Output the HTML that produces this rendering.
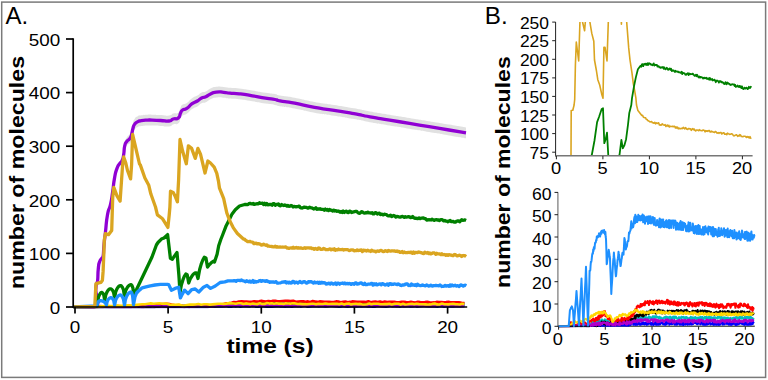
<!DOCTYPE html>
<html><head><meta charset="utf-8"><title>figure</title>
<style>
html,body{margin:0;padding:0;background:#fff;}
body{width:768px;height:380px;overflow:hidden;}
svg{display:block;}
text{font-family:"Liberation Sans",sans-serif;fill:#000;}
.tl{font-size:16.4px;}
.tb{font-size:16.6px;}
.al{font-size:20px;font-weight:bold;}
.pl{font-size:23.5px;}
</style></head><body>
<svg width="768" height="380" viewBox="0 0 768 380">
<defs>
<clipPath id="clipA"><rect x="72" y="30" width="396" height="278.5"/></clipPath>
<clipPath id="clipBT"><rect x="555.6" y="22.1" width="200" height="134"/></clipPath>
<clipPath id="clipBB"><rect x="558" y="180" width="200" height="147.5"/></clipPath>
</defs>
<rect x="0" y="0" width="768" height="380" fill="#fff"/>
<rect x="1.7" y="2.1" width="763.9" height="375.3" fill="none" stroke="#7a7a7a" stroke-width="1.5"/>
<g clip-path="url(#clipA)" fill="none" stroke-linejoin="round" stroke-linecap="butt">
<polyline stroke="#0000ff" stroke-width="2.6" points="75,307 205.4,306.8 207.8,307 210.1,306.3 212.5,306.3 214.8,306.7 217.2,306.4 219.6,306.4 221.9,306.4 224.2,306.2 226.5,306.1 228.8,306.7 231.1,306.8 233.4,306 235.7,306.4 238,306 240.4,306.8 242.7,306.3 244.9,306.3 247.1,306.1 249.4,306.5 251.6,305.8 253.9,305.9 256.1,306.7 258.3,306.7 260.6,306.2 262.8,305.9 265.1,306.4 267.3,306.6 269.5,306.4 271.8,306.7 274,306.5 276.3,306.3 278.5,306.3 280.7,306.5 283,306.5 285.2,306.6 287.5,306.3 289.7,306.5 291.9,306.7 294.2,306 296.4,306.2 298.7,306.1 300.9,306.6 303.1,305.8 305.4,305.9 307.6,306.7 309.9,306.4 312.1,306.1 314.3,306.1 316.6,305.9 318.8,306.4 321,306 323.3,306.1 325.5,306.5 327.8,306.2 330,305.9 332.2,306 334.5,306.3 336.7,306.2 339,306.7 341.2,306.5 343.4,306 345.7,306.4 347.9,306.6 350.2,306.2 352.4,306.1 354.6,306.1 356.9,306.4 359.1,306.3 361.4,306.3 363.6,306 365.8,306.3 368.1,306.4 370.3,306.3 372.6,306.7 374.8,306.7 377,306.1 379.3,305.8 381.5,306.2 383.7,306.4 386,306.6 388.2,306.3 390.5,305.8 392.7,306 394.9,306.3 397.2,305.9 399.4,306.6 401.7,306.3 403.9,305.9 406.1,306.2 408.4,306.3 410.6,306.5 412.9,306.3 415.1,305.9 417.3,306.8 419.6,306 421.8,306 424.1,305.9 426.3,306.1 428.5,306 430.8,306.3 433,306.2 435.3,306.4 437.5,306.7 439.7,305.9 442,306.2 444.2,306.6 446.5,306.3 448.7,306.3 450.9,306.4 453.2,306.5 455.4,306.3 457.6,306.2 459.9,306.2 462.1,306.3 464.4,306.3"/>
<polyline stroke="#00bfbf" stroke-width="2.6" points="75,307 130.9,306.7 133.9,306.8 136.9,306.3 139.3,306.2 141.7,306.3 144.2,306 146.6,305.9 149.1,306.4 151.5,306.3 153.9,305.5 156.4,306 158.8,305.7 161.2,305.9 163.6,305.1 166,305.6 168.3,305.5 170.6,305.3 172.9,305.8 175.2,305.8 177.5,306 179.7,306.4 181.9,305.9 184.2,305.7 186.4,306 188.6,305.8 190.9,305.9 193.1,306.5 195.3,305.8 197.6,306 199.8,306.1 202.1,306.2 204.4,306.5 206.7,305.6 208.9,305.9 211.2,305.7 213.5,305.5 215.8,305.6 218,305.3 220.3,305.7 222.9,305.7 225.5,305.2 228.1,305.4 230.7,304.9 233.4,305.2 235.8,304.8 238.3,305.5 240.8,305.4 243.3,305.3 245.8,304.5 248.3,304.9 250.7,305 253.2,304.8 255.7,305.1 258.2,304.9 260.7,305 263.2,305 265.6,304.8 268.1,304.8 270.6,304.9 272.9,304.5 275.3,304.7 277.6,304.5 279.9,304.5 282.3,304.4 284.6,304.7 286.9,305.2 289.2,304.6 291.6,304.5 293.9,304.5 296.2,304.9 298.6,304.7 300.9,305.2 303.2,304.6 305.5,304.9 307.9,305 310.2,305.2 312.5,305.4 314.9,304.6 317.2,304.5 319.5,305.4 321.8,304.7 324.2,305.1 326.5,305.3 328.8,305.2 331.2,304.7 333.5,304.6 335.8,305.4 338.1,304.9 340.5,305.4 342.8,304.8 345.1,305.2 347.5,304.6 349.8,304.5 352.1,305 354.4,305 356.7,304.5 358.9,305.2 361.2,305.4 363.4,304.9 365.7,305.5 367.9,305.3 370.2,305.1 372.4,304.9 374.6,305.3 376.9,305.5 379.1,304.7 381.4,305.2 383.6,304.6 385.9,304.6 388.1,305.1 390.3,305.1 392.6,305 394.8,304.9 397.1,304.9 399.3,305 401.6,304.9 403.8,304.6 406,305 408.3,305.1 410.5,304.8 412.8,305.3 415,305.2 417.3,304.6 419.5,305 421.7,305 424,305.5 426.2,305.1 428.5,304.9 430.7,305.5 433,304.9 435.2,304.9 437.4,305.4 439.7,304.9 441.9,305 444.2,304.8 446.4,305.2 448.7,304.8 450.9,304.8 453.2,305.5 455.4,305.4 457.6,304.8 459.9,304.6 462.1,305.3 464.4,305"/>
<polyline stroke="#000000" stroke-width="2.6" points="75,307 149.5,306.7 152,306.9 154.5,306.9 157,306.5 159.5,306.6 162,306.1 164.5,306.6 167.1,306.3 169.6,305.8 172.1,306 174.7,306.3 177.1,306 179.4,306.5 181.8,306.2 184.2,306.4 186.6,306.5 189,306.6 191.3,306.5 193.7,305.7 196.1,306.1 198.4,305.8 200.8,305.7 203.1,305.7 205.4,306.2 207.7,306 210.1,305.6 212.4,305.4 214.7,305.6 217.8,305.2 220.9,305.4 223.4,304.9 225.9,305.4 228.4,304.8 230.9,304.5 233.4,304.5 236.7,304.5 240.1,304.4 242.4,304.6 244.8,304.2 247.2,304.5 249.6,303.6 251.9,303.5 254.3,303.7 256.7,303.8 259.1,303.5 261.4,303.1 263.7,303.4 266,303.1 268.3,303.1 270.7,303.4 273,303.5 275.3,303.3 277.6,303.5 279.9,303.4 282.3,303.7 284.6,303.6 286.9,303.1 289.3,303.9 291.6,303.9 294,303.3 296.3,303.7 298.6,303.4 301,303.5 303.3,303.6 305.7,303 308,303.8 310.3,303.6 312.7,303.8 315,303.4 317.4,303.7 319.7,303.6 322,303.5 324.4,303.3 326.7,303.7 329,303.5 331.3,303.1 333.6,303.9 335.9,304 338.3,303.8 340.6,303.3 342.9,303.5 345.2,303.8 347.5,303.7 349.9,303.9 352.2,303.6 354.5,304 356.8,303.4 359.1,303.2 361.4,303.2 363.8,303.6 366.1,303.4 368.4,303.2 370.8,304.2 373.1,303.9 375.4,303.3 377.7,303.5 380.1,303.9 382.4,303.4 384.7,303.7 387.1,303.8 389.4,303.5 391.7,304 394,304.1 396.4,303.8 398.7,304.1 401,303.9 403.4,303.3 405.7,303.9 408,304.2 410.3,303.7 412.6,304.2 414.8,304 417.1,303.5 419.3,303.9 421.6,303.9 423.8,304.1 426.1,303.3 428.3,303.8 430.6,304 432.9,304.2 435.1,304.2 437.4,304.1 439.6,303.6 441.9,304.1 444.1,304.2 446.4,303.7 448.6,304 450.9,303.3 453.1,304.1 455.4,303.7 457.6,303.5 459.9,303.8 462.1,303.3 464.4,303.7"/>
<polyline stroke="#ff0000" stroke-width="2.6" points="75,307 97.4,307 99.2,306 102.9,306.2 106.7,306.7 112.3,306.6 117.8,306 121.6,306.7 127.2,306 130.9,306.5 133.9,305.9 136.9,305.9 139.5,305.5 142.1,305.7 144.7,305.8 147.3,305.4 149.9,305.7 152.6,304.9 155.2,304.9 157.9,304.7 160.7,304.1 163.5,304.1 166.3,303.7 169.5,304 172.6,304.9 175.7,305.2 178.8,305.1 183.1,306.1 186.2,305.7 189.4,305.8 192,305.5 194.6,305.7 197.2,305.5 199.8,305.4 202.4,305.2 205,305.7 207.6,305.3 210.3,305.4 212.9,304.9 215.6,305.2 218.2,304.5 220.9,304.6 223.7,303.9 226.5,303.3 229.3,303.1 231.6,302.8 233.9,302.1 236.5,302.3 239,301.5 241.6,301.4 244.2,301.6 246.6,301.6 249.1,301.9 251.6,301.7 254.1,301.3 256.6,301.6 259.1,301.3 261.4,300.9 263.7,301.2 266,301.6 268.3,301.1 270.7,301.4 273,300.8 275.3,300.8 277.6,301.2 279.9,301.2 282.6,301 285.2,300.9 287.9,300.8 290.5,301.1 293.2,300.7 295.8,301.7 298.4,301.5 301,301.4 303.3,301.3 305.7,301.7 308,301.4 310.3,301.9 312.7,301.1 315,301.5 317.4,301.9 319.7,301.4 322,301.6 324.4,301.8 326.7,301.9 329.1,301.7 331.4,302 333.7,302 336.1,301.4 338.4,301.6 340.7,302.2 343.1,301.8 345.4,301.5 347.7,302.2 350,301.9 352.3,301.4 354.6,301.6 356.9,301.9 359.2,301.8 361.5,301.8 363.8,301.7 366.1,302.1 368.4,301.3 370.8,302.2 373.1,301.9 375.4,301.6 377.7,302 380.1,301.5 382.4,302.2 384.7,301.6 387.1,302.1 389.5,301.7 391.9,301.9 394.3,301.8 396.7,302.2 399.2,302.2 401.5,301.8 403.8,301.9 406.2,302.1 408.5,302.2 410.9,301.9 413.2,302.2 415.5,302.5 417.9,301.8 420.2,302.1 422.6,302.3 424.9,302.1 427.2,301.8 429.6,302.3 431.9,302.5 434.2,302.4 436.6,301.9 438.9,302.1 441.3,302 443.7,302.3 446.2,302.1 448.6,301.7 451.1,302.4 453.5,302.4 456,302.3 458.8,302.2 461.6,302.7 464.4,303"/>
<polyline stroke="#9a00d0" stroke-width="2.6" points="75,307 102.9,307 104.8,306.6 108.5,307 116,306.6 119.7,307 127.2,306.6 130.9,307 133.9,306.3 136.9,306.6 139.1,306.1 141.3,307 143.6,306.9 145.8,306.2 148.1,306.2 150.3,306.3 152.6,306.6 154.8,306.3 157.1,306.3 159.3,306.3 161.6,306.7 163.8,306.4 166.1,306.4 168.3,306.3 170.6,306.1 172.9,305.9 175.3,305.9 177.6,306.3 179.9,306.5 182.2,306.6 184.5,306.9 186.8,306.5 189.1,306.9 191.4,306.4 193.8,306.6 196.1,306.5 198.4,306 200.8,306.3 203.1,306.2 205.4,306.5 207.7,306.7 210.1,306.4 212.4,306.5 214.7,306.1 217.1,306.1 219.4,305.5 221.7,305.8 224,306.2 226.4,305.5 228.7,305.5 231,305.5 233.4,305.7 235.8,305.3 238.3,305.4 240.8,305.4 243.3,305.8 245.8,305.2 248.3,305.6 250.5,305.2 252.8,305.9 255,305.4 257.3,305.4 259.6,305.7 261.8,305.6 264.1,305.7 266.4,305.2 268.6,305.7 270.9,305.3 273.1,305.8 275.4,305.3 277.7,305.3 279.9,305.7 282.2,305.6 284.5,305.3 286.7,305.5 289,305.7 291.2,306 293.5,305.9 295.8,305.5 298,306.1 300.3,305.3 302.6,306 304.8,305.4 307.1,305.9 309.3,305.3 311.6,305.8 313.8,305.6 316.1,305.8 318.3,305.7 320.6,305.6 322.8,305.7 325.1,305.9 327.3,306 329.6,305.7 331.8,305.3 334.1,305.6 336.3,306.2 338.6,305.4 340.8,305.5 343.1,305.4 345.3,306.1 347.5,305.5 349.8,306.2 352,305.6 354.3,306 356.5,306 358.8,305.4 361,306.1 363.3,305.7 365.5,305.4 367.8,306 370,306 372.3,305.4 374.5,305.8 376.8,305.5 379,306.2 381.2,305.9 383.5,306.1 385.7,305.6 388,306.1 390.2,305.3 392.5,306.2 394.7,305.5 397,306.2 399.2,306 401.5,305.4 403.7,306.1 406,306 408.2,305.5 410.4,305.8 412.7,306.2 414.9,305.3 417.2,306.1 419.4,306.2 421.7,305.9 423.9,305.6 426.2,305.5 428.4,306.1 430.7,305.9 432.9,306.2 435.2,305.8 437.4,305.5 439.7,305.5 441.9,305.3 444.1,305.5 446.4,305.4 448.6,305.5 450.9,305.7 453.1,306 455.4,305.6 457.6,305.9 459.9,306.1 462.1,305.8 464.4,305.7"/>
<polyline stroke="#ffd700" stroke-width="2.6" points="75,307 97.4,307 101.1,306.4 104.8,306 107.6,305.8 110.4,306.1 114.1,305.9 117.8,305.6 121.6,305.9 125.3,305.5 129,305.2 132.8,305.5 136.9,304.9 139.6,304.5 142.4,304.2 145.2,304.2 148,303.7 150.8,303.4 153.6,303.7 156.4,303.5 159.2,303.3 162,303.8 166.3,303.5 169.5,304.6 172.6,304.7 175.7,304.7 178.8,304.5 183.1,306 187.2,305.1 189.9,304.5 192.7,304.6 195.5,304.5 198.4,304 201.2,304.7 204.1,304.2 206.9,304.3 209.7,304.6 212.5,304.4 215.3,304.1 218.1,303.8 220.9,303.7 223.7,304 226.5,303.6 229.3,303.1 233.4,303.5 235.8,303.7 238.3,303.2 240.8,303.3 243.3,304 245.8,303.4 248.3,303.7 250.6,304.1 252.9,303.6 255.3,304 257.6,304.1 260,303.3 262.3,303.9 264.6,303.9 267,303.1 269.3,303.6 271.7,303.2 274,303.8 276.4,303.2 278.8,303.6 281.1,303.5 283.5,304 285.8,303.3 288.2,303.5 290.5,303.7 292.9,303.3 295.2,303.4 297.6,304 299.9,303.9 302.2,304.1 304.6,304.1 306.9,304.2 309.3,304 311.6,303.8 313.9,303.7 316.2,304.3 318.4,303.7 320.7,304 323,304 325.3,303.5 327.5,303.9 329.8,304 332.1,303.8 334.5,303.9 336.9,303.7 339.2,304.3 341.6,303.5 344,304.4 346.4,303.7 348.8,303.6 351.1,304.4 353.5,304 355.8,303.7 358,304.1 360.2,303.9 362.5,304.5 364.7,304.5 366.9,304.3 369.2,303.6 371.4,304.3 373.6,303.8 375.9,303.7 378.1,303.7 380.3,304.2 382.6,304.2 384.8,304.1 387.1,304.1 389.3,303.8 391.6,304.5 393.9,303.9 396.1,303.8 398.4,303.8 400.7,304.6 403,303.7 405.2,304.5 407.5,304.3 409.8,304 412.1,303.7 414.3,304.3 416.6,303.7 418.9,304.1 421.2,304.3 423.4,304.3 425.7,304.4 428,304.5 430.3,304.4 432.5,303.9 434.8,303.6 437.1,304.4 439.4,304.5 441.6,303.6 443.9,304.1 446.2,304.2 448.4,304.4 450.7,304 453,303.8 455.3,304.1 457.5,304.2 459.8,304.5 462.1,303.7 464.4,304.1"/>
<path fill="#dadada" fill-opacity="0.8" stroke="none" d="M96.6,282.5 C96.9,281.7 97,284.9 97.6,280 C98.2,275.1 97.6,274.1 98.3,267.7 C99,261.3 98.5,264.2 99.6,260.8 C100.7,257.4 100.5,259.2 101.7,257.4 C102.9,255.6 102.3,259.9 103.1,255.4 C103.9,250.9 103.2,251.9 104,244 C104.8,236.1 104.2,241.7 105.4,231.6 C106.6,221.5 105.8,223.2 107.5,213.7 C109.2,204.2 108.9,210.9 110.6,203.2 C112.3,195.5 111.4,199.1 112.7,190.5 C114,181.9 113,185.4 114.4,177.4 C115.8,169.4 115.1,172 117,166.4 C118.9,160.8 118.4,163.6 120.1,160.6 C121.8,157.6 121,160.6 122.2,157.5 C123.4,154.3 122.9,156.2 123.7,151.2 C124.5,146.2 123.7,147 124.7,142.5 C125.7,137.9 125.2,140.2 126.8,137.5 C128.4,134.9 128.1,136.4 129.5,134.5 C130.9,132.6 130.2,133.6 131,131.7 C131.8,129.8 131.1,131.6 131.8,128.7 C132.5,125.8 132.1,126.2 133,123 C133.9,119.8 133.1,121.2 134.6,119 C136.1,116.8 135.2,117.7 137.4,116.5 C139.6,115.3 137.9,115.9 141.3,115.3 C144.7,114.7 144,114.9 147.6,114.7 C151.2,114.5 147.7,114.6 152,114.7 C156.3,114.8 154.8,114.8 160.5,115.1 C166.2,115.4 164.8,116.1 169,115.6 C173.2,115.1 170.1,114.6 173.2,113.6 C176.3,112.6 176,114.4 178.4,112.5 C180.8,110.6 179.1,110.4 180.5,107.8 C181.9,105.2 180.5,106.2 182.6,104.6 C184.7,103 183.6,105.1 186.8,103 C190,100.9 188.6,100.8 192.1,98.3 C195.6,95.8 194.2,97.5 197.4,95.6 C200.6,93.7 198.8,93.9 201.6,92.5 C204.4,91.1 202.7,92.8 205.8,91.4 C208.9,90 207.5,89.9 211,88.3 C214.5,86.7 212.1,87.2 216.3,86.7 C220.5,86.2 219.1,86.5 223.7,86.9 C228.3,87.3 224.8,87.3 230,87.8 C235.2,88.3 231.7,87.5 239.2,88.4 C246.7,89.3 243.6,88.9 252.4,90.4 C261.2,91.9 258,91.6 265.5,92.8 C273,94 270.2,93.2 275,94.1 C279.8,95 273.4,94.3 280,95.5 C286.6,96.7 283.2,95.6 294.7,97.8 C306.2,100 301.3,99.6 314.5,102 C327.7,104.4 321,102.9 334.2,105 C347.4,107.1 342.1,106.2 354,108.3 C365.9,110.4 358.1,109.3 370,111.4 C381.9,113.5 376.5,112.5 389.7,114.7 C402.9,116.9 396.3,115.8 409.5,118 C422.7,120.2 416,119.1 429.2,121.3 C442.4,123.5 436.7,122.5 449,124.6 C461.3,126.7 460.3,126.5 466,127.5 L466,138.3 C460.3,137.3 461.3,137.5 449,135.4 C436.7,133.3 442.4,134.3 429.2,132.1 C416,129.9 422.7,131 409.5,128.8 C396.3,126.6 402.9,127.7 389.7,125.5 C376.5,123.3 381.9,124.3 370,122.2 C358.1,120.1 365.9,121.2 354,119.1 C342.1,117 347.4,117.9 334.2,115.8 C321,113.7 327.7,115.2 314.5,112.8 C301.3,110.4 306.2,110.8 294.7,108.6 C283.2,106.4 286.6,107.5 280,106.3 C273.4,105.1 279.8,105.8 275,104.9 C270.2,104 273,104.8 265.5,103.6 C258,102.4 261.2,102.7 252.4,101.2 C243.6,99.7 246.7,100.1 239.2,99.2 C231.7,98.3 235.2,99.1 230,98.6 C224.8,98.1 228.3,98.1 223.7,97.7 C219.1,97.3 220.5,97 216.3,97.5 C212.1,98 214.5,97.5 211,99.1 C207.5,100.7 208.9,100.8 205.8,102.2 C202.7,103.6 204.4,101.9 201.6,103.3 C198.8,104.7 200.6,104.5 197.4,106.4 C194.2,108.3 195.6,106.6 192.1,109.1 C188.6,111.6 190,111.7 186.8,113.8 C183.6,115.9 184.7,113.8 182.6,115.4 C180.5,117 181.9,116 180.5,118.6 C179.1,121.2 180.8,121.4 178.4,123.3 C176,125.2 176.3,123.4 173.2,124.4 C170.1,125.4 173.2,125.9 169,126.4 C164.8,126.9 166.2,126.2 160.5,125.9 C154.8,125.6 156.3,125.6 152,125.5 C147.7,125.4 151.2,125.3 147.6,125.5 C144,125.7 144.7,125.5 141.3,126.1 C137.9,126.7 139.6,126.1 137.4,127.3 C135.2,128.5 136.1,127.8 134.6,129.8 C133.1,131.8 133.9,130.4 133,133.4 C132.1,136.4 132.5,136 131.8,138.7 C131.1,141.3 131.8,139.7 131,141.3 C130.2,142.9 130.9,142.1 129.5,143.5 C128.1,144.9 128.4,143.4 126.8,145.5 C125.2,147.5 125.7,145.4 124.7,149.5 C123.7,153.7 124.5,153.2 123.7,157.8 C122.9,162.5 123.4,160.9 122.2,163.5 C121,166.2 121.8,163.5 120.1,165.8 C118.4,168.1 118.9,165.5 117,170.4 C115.1,175.3 115.8,172.9 114.4,180.4 C113,187.8 114,184.5 112.7,192.7 C111.4,201 112.3,197.5 110.6,205.2 C108.9,212.9 109.2,206.2 107.5,215.7 C105.8,225.2 106.6,223.5 105.4,233.6 C104.2,243.7 104.8,238.1 104,246 C103.2,253.9 103.9,252.9 103.1,257.4 C102.3,261.9 102.9,257.6 101.7,259.4 C100.5,261.2 100.7,259.4 99.6,262.8 C98.5,266.2 99,263.3 98.3,269.7 C97.6,276.1 98.2,277.1 97.6,282 C97,286.9 96.9,283.7 96.6,284.5 Z"/>
<path stroke="#9000d4" stroke-width="3.3" d="M73.2,307 C80.5,306.8 87.5,312.2 95,306.5 C102.5,300.8 95.3,297.7 95.8,290 C96.3,282.3 96,286.5 96.6,283.5 C97.2,280.5 97,285.9 97.6,281 C98.2,276.1 97.6,275.1 98.3,268.7 C99,262.3 98.5,265.2 99.6,261.8 C100.7,258.4 100.5,260.2 101.7,258.4 C102.9,256.6 102.3,260.9 103.1,256.4 C103.9,251.9 103.2,252.9 104,245 C104.8,237.1 104.2,242.7 105.4,232.6 C106.6,222.5 105.8,224.2 107.5,214.7 C109.2,205.2 108.9,211.9 110.6,204.2 C112.3,196.5 111.4,200 112.7,191.6 C114,183.2 113,186.6 114.4,178.9 C115.8,171.2 115.1,173.6 117,168.4 C118.9,163.2 118.4,165.8 120.1,163.2 C121.8,160.6 121,163.4 122.2,160.5 C123.4,157.6 122.9,159.3 123.7,154.5 C124.5,149.7 123.7,150.3 124.7,146 C125.7,141.7 125.2,143.8 126.8,141.5 C128.4,139.2 128.1,140.7 129.5,139 C130.9,137.3 130.2,138.3 131,136.5 C131.8,134.7 131.1,136.5 131.8,133.7 C132.5,130.9 132.1,131.3 133,128.2 C133.9,125.1 133.1,126.5 134.6,124.4 C136.1,122.3 135.2,123.1 137.4,121.9 C139.6,120.7 137.9,121.3 141.3,120.7 C144.7,120.1 144,120.3 147.6,120.1 C151.2,119.9 147.7,120 152,120.1 C156.3,120.2 154.8,120.2 160.5,120.5 C166.2,120.8 164.8,121.5 169,121 C173.2,120.5 170.1,120 173.2,119 C176.3,118 176,119.8 178.4,117.9 C180.8,116 179.1,115.8 180.5,113.2 C181.9,110.6 180.5,111.6 182.6,110 C184.7,108.4 183.6,110.5 186.8,108.4 C190,106.3 188.6,106.2 192.1,103.7 C195.6,101.2 194.2,102.9 197.4,101 C200.6,99.1 198.8,99.3 201.6,97.9 C204.4,96.5 202.7,98.2 205.8,96.8 C208.9,95.4 207.5,95.3 211,93.7 C214.5,92.1 212.1,92.6 216.3,92.1 C220.5,91.6 219.1,91.9 223.7,92.3 C228.3,92.7 224.8,92.7 230,93.2 C235.2,93.7 231.7,92.9 239.2,93.8 C246.7,94.7 243.6,94.3 252.4,95.8 C261.2,97.3 258,97 265.5,98.2 C273,99.4 270.2,98.6 275,99.5 C279.8,100.4 273.4,99.7 280,100.9 C286.6,102.1 283.2,101 294.7,103.2 C306.2,105.4 301.3,105 314.5,107.4 C327.7,109.8 321,108.3 334.2,110.4 C347.4,112.5 342.1,111.6 354,113.7 C365.9,115.8 358.1,114.7 370,116.8 C381.9,118.9 376.5,117.9 389.7,120.1 C402.9,122.3 396.3,121.2 409.5,123.4 C422.7,125.6 416,124.5 429.2,126.7 C442.4,128.9 436.7,127.9 449,130 C461.3,132.1 460.3,131.9 466,132.9"/>
<polyline stroke="#008000" stroke-width="3.3" points="73.2,307 96,306.5 97,305.5 97.8,299.8 98.5,297.1 99.3,295.1 100.1,293.7 100.8,292.8 101.6,292.4 102.4,292.7 103.2,293.7 103.9,295.5 104.7,300.6 105.7,295.1 106.7,292.6 107.7,290.8 108.7,289.6 109.7,288.9 110.6,288.8 111.6,289.2 112.6,290.4 113.6,292.5 114.6,297.8 115.6,292.1 116.6,289.6 117.6,287.8 118.6,286.6 119.5,285.8 120.5,285.6 121.5,286.1 122.5,287.5 123.5,290 124.5,296.3 125.4,291.4 126.4,289.1 127.3,287.5 128.2,286.2 129.2,285.4 130.1,284.8 131,284.6 131.9,285.4 132.9,288 133.8,295.2 152,257 156.4,245 158,242.5 161.4,239.1 164,238 167.6,234.6 170.4,258.3 172.3,259.3 174.2,256.4 177,252.6 178.9,275.3 180,292.4 180,292.4 181.4,284.8 182.9,279.9 184.3,276.4 185.8,274 187.2,274.7 188.7,283 190.2,278.9 191.8,276.3 193.3,274.3 194.9,273 196.4,273 198,278.5 199.6,269.7 201.2,264.1 202.8,260 204.3,257.2 205.9,257.9 207.5,267 208.7,265.4 209.8,264.2 211,263.1 212.2,262.1 213.3,261.3 214.5,262 217.1,254.2 218.7,245.8 220.8,239.5 222.6,235 225.8,226.6 229,220.3 232.1,213.9 235.3,209.7 239.5,206 244.7,204.5 245.8,204.4 246.8,204.6 247.9,204.6 248.9,203.6 250,203.3 251,203.8 252.1,204 253.2,203.5 254.2,204.4 255.2,204.1 256.3,203.9 257.4,203.7 258.4,203.8 259.4,202.8 260.5,203.4 261.6,203.4 262.6,203.1 263.6,204.6 264.7,203.2 265.8,204.7 266.8,203.5 267.8,204.8 268.9,204.6 270,204.3 271,204.4 272.1,205.2 273.1,203.7 274.2,203.7 275.3,205.3 276.3,204.5 277.4,204.5 278.4,203.9 279.5,205.7 280.5,205.8 281.6,204.5 282.6,205.2 283.7,205.5 284.8,205 285.8,205.4 286.9,206.1 287.9,205.4 288.9,206.4 290,206.2 291,205.5 292,205.8 293.1,207 294.1,206.3 295.1,206.5 296.1,206.9 297.1,206.7 298.2,206.6 299.2,206.1 300.2,207.4 301.2,207.9 302.2,208 303.3,207.5 304.3,207.1 305.3,207.4 306.4,207.3 307.4,208 308.5,208.1 309.5,207.2 310.6,207.6 311.6,207.9 312.7,208.3 313.7,209 314.8,208.5 315.8,207.8 316.9,209.4 317.9,208.8 319,209.1 320,208.7 321.1,209.3 322.2,209.3 323.2,209.4 324.3,210.2 325.3,209.1 326.4,210.1 327.4,209.5 328.5,210.6 329.5,209.5 330.6,210.1 331.6,210.4 332.7,211 333.7,210.1 334.8,211 335.8,210.6 336.9,211.3 338,211 339,211.4 340.1,212.3 341.1,211.5 342.2,212.4 343.2,211 344.3,212.4 345.3,211.5 346.4,211.2 347.4,212.3 348.5,212.6 349.5,211.1 350.6,211.6 351.6,212.5 352.7,212.1 353.7,211.9 354.7,211.7 355.7,211.3 356.7,211.4 357.7,212.5 358.7,213.2 359.8,213.3 360.8,212.4 361.8,211.6 362.8,212.2 363.8,213 364.8,213.2 365.8,212.6 366.9,212.9 367.9,212.2 368.9,212.8 370,212.8 371.1,213.2 372.1,212.6 373.1,213.9 374.2,213.8 375.2,212.6 376.3,212.9 377.3,214 378.4,213.4 379.4,213.2 380.4,214.6 381.4,214.1 382.4,214.6 383.4,214.9 384.5,214.2 385.5,214.5 386.5,214.7 387.5,215.7 388.5,215.9 389.5,215.8 390.6,215.2 391.6,216.6 392.7,215.8 393.7,215.5 394.8,216 395.8,217 396.9,216.3 397.9,216.5 399,217 400,217.2 401.1,216.9 402.1,216.3 403.2,216.7 404.2,217.3 405.3,216.6 406.4,217.2 407.4,217 408.5,216.6 409.5,216.8 410.6,217.6 411.6,217.4 412.7,216.5 413.7,217.8 414.8,218.3 415.8,218.2 416.9,218.5 417.9,218.6 419,218 420,218.6 421.1,218.2 422.2,218.2 423.4,217.9 424.5,218.6 425.6,218.7 426.7,220.1 427.9,219.8 429,219.7 430.1,219.8 431.1,220 432.2,219.2 433.2,220 434.3,220.3 435.3,219.8 436.4,219.6 437.4,220 438.5,219.9 439.5,220.6 440.6,219.6 441.6,219.6 442.7,220.1 443.7,220.8 444.8,220.5 445.9,221.1 446.9,221.1 448,221.8 449,221 450.1,220.5 451.1,221.5 452.2,221.6 453.2,221.3 454.3,222.1 455.4,222.2 456.4,221.4 457.5,221 458.5,220.9 459.6,221.8 460.6,220.8 461.7,219.8 462.8,220.4 463.9,220.2 465,219.9 466.1,220.4"/>
<polyline stroke="#1e90ff" stroke-width="3.3" points="73.2,307 96.5,306 97,305 97.9,302.2 98.9,301.2 99.8,300.7 100.8,300.6 101.7,300.8 102.6,301.1 103.6,301.5 104.5,302.2 105.5,303.1 106.4,305.2 107.2,301.5 108,299.8 108.9,298.7 109.7,298 110.5,297.7 111.3,297.6 112.1,298.1 113,299.2 113.8,300.9 114.6,305.2 115.6,300.2 116.6,298.1 117.6,296.6 118.6,295.6 119.5,295.1 120.5,295 121.5,295.6 122.5,297 123.5,299.4 124.5,305.2 125.4,299.6 126.3,297.1 127.2,295.2 128.1,293.9 129,292.9 129.9,292.3 130.8,292 131.7,292.8 132.6,295.8 133.5,304.6 135,297 136.6,293 138.5,291 140.3,289.5 142.2,287.8 146,286.8 150.3,285.8 155,285 160.4,284.4 167.5,284.4 168.6,284.6 171.4,290.2 175.1,288.4 178.7,287.2 180.4,297.9 182.2,294.3 184.6,290.2 188.1,293.7 191.7,289.6 195.2,289 198.8,292 203.5,287.2 207,285.4 210.6,288.4 215.3,286 220.1,282.5 224.8,281.9 228,280.9 232.9,280.8 234,280.6 235,280.7 236.1,281.3 237.1,280.3 238.2,280.3 239.2,280.4 240.3,280.7 241.3,280 242.4,280.7 243.4,280.8 244.5,281.2 245.5,281.7 246.6,280.7 247.6,281.2 248.7,281.8 249.8,281 250.8,282.2 251.8,281.9 252.9,280.6 253.9,282.3 255,281.3 256.1,282.1 257.1,281.6 258.2,281.5 259.2,280.7 260.3,280.5 261.4,281.4 262.4,280.6 263.5,280.8 264.5,280.9 265.6,281.4 266.6,280.6 267.7,281.5 268.7,281.5 269.8,282.3 270.8,281.8 271.9,282.1 272.9,281.9 274,282.3 275,282 276.1,281.7 277.1,283.1 278.2,283.2 279.2,283 280.3,282.8 281.3,282.5 282.3,282.1 283.4,282 284.4,282.1 285.5,281.6 286.5,282.9 287.5,282.2 288.6,283 289.6,282.1 290.7,283.1 291.7,282.9 292.7,281.4 293.8,281.7 294.8,283 295.9,282.2 296.9,282.2 297.9,283.1 299,282.1 300,281.5 301.1,282.5 302.1,282.8 303.1,281.9 304.2,281.6 305.2,282.1 306.3,283.2 307.3,282.9 308.3,281.7 309.4,282 310.4,281.7 311.5,281.7 312.5,282.5 313.5,283.1 314.6,282 315.6,282.8 316.7,282.6 317.7,282.2 318.7,283.3 319.8,282.3 320.8,283.2 321.9,282.3 322.9,283 323.9,282.6 325,282.8 326,284.1 327.1,283.9 328.1,283.4 329.1,283.1 330.2,284.1 331.2,283 332.3,283.3 333.3,284.2 334.4,283.8 335.4,282.9 336.5,284.5 337.5,283.1 338.6,283.2 339.6,284.2 340.7,283.4 341.7,283.4 342.8,283 343.8,283.8 344.8,283 345.9,283.9 346.9,283.3 348,283.9 349,283.4 350,283.6 351.1,284.4 352.1,283.6 353.2,283.7 354.2,284.2 355.2,282.9 356.3,282.9 357.3,284.2 358.4,284 359.4,283.4 360.5,283 361.5,283 362.6,284.1 363.6,284.5 364.7,283.3 365.8,284.7 366.8,284.6 367.9,284.2 368.9,284 370,284.2 371,283.5 372,283.4 373,285.1 374.1,283.8 375.1,284.6 376.1,283.8 377.1,284.9 378.1,284.5 379.1,284 380.1,283.8 381.2,284.8 382.2,283.6 383.2,283.9 384.2,284.5 385.2,285 386.2,284.6 387.2,284 388.3,285.2 389.3,283.9 390.3,283.6 391.3,284.5 392.3,284.1 393.3,284.4 394.3,283.8 395.3,284 396.3,284.3 397.3,284.7 398.3,283.9 399.4,284.4 400.4,285.3 401.4,285.5 402.4,285 403.4,285 404.4,284.9 405.4,284.1 406.4,283.9 407.4,283.9 408.4,285.5 409.4,285.2 410.4,285.6 411.4,284 412.4,285.1 413.4,284.8 414.4,285.3 415.5,284.6 416.5,285.8 417.5,284.2 418.5,285 419.5,285.4 420.5,285.7 421.5,285.4 422.5,285 423.5,285.4 424.6,285.6 425.6,285.9 426.6,284.9 427.7,285.5 428.7,286 429.7,285.9 430.8,285.2 431.8,285.9 432.8,286.1 433.9,285.6 434.9,285.7 435.9,285.3 437,285.7 438,285.6 439,285.8 440,284.9 441,285.9 442,286.5 443.1,286.3 444.1,286.1 445.1,285.4 446.1,286.1 447.1,285.8 448.1,285.6 449.1,286.3 450.1,284.9 451.1,286.1 452.1,284.9 453.2,285.9 454.2,285.7 455.2,285.2 456.2,286.1 457.2,285.7 458.2,285.9 459.2,286.5 460.2,285.3 461.2,284.9 462.3,285.4 463.3,286.1 464.3,285.3 465.3,285.2 466.3,285.8"/>
<polyline stroke="#daa520" stroke-width="3.3" points="73.2,307 94.8,306.4 95.9,283.8 97.6,283.1 101,282.4 102.4,280.3 103.1,271.4 103.8,255 104.3,240 105.4,233.6 108.5,234.7 111.7,230.5 112.7,197.9 113.8,187.4 117,195.8 120.1,201.1 122.6,165 123.7,157 125.8,163 127.5,170.5 130.6,178.9 131.6,165 132.6,134.5 135.3,146 139.5,164 140.3,164.9 144.9,178 148.8,185.3 150.8,193.8 155.5,207 157.4,214.9 162.6,218.8 167.9,227.4 169.2,215 169.9,207 170.5,191.2 173.2,192.4 175.3,196.6 177.4,201.8 178.6,180 180,139.5 182.6,151 186.3,163.7 188.4,145.8 191.6,148.4 195.3,158.4 197.9,148.4 200.5,154.2 205,173 207.9,161 210.5,163 214.2,167.1 216.8,173.4 218.4,180.8 219.5,188.2 221.6,193.4 223.7,198.7 224.7,203.4 226.8,212.9 230,221.3 233.2,227.6 237.4,233.5 243.4,239 244.5,239.1 245.5,240.3 246.6,240.9 247.6,241.6 248.7,241.6 249.8,241.4 250.8,241.8 251.8,242 252.9,242.4 253.9,243.6 255,243.5 256.1,243.1 257.2,243.9 258.2,243.6 259.3,243.9 260.4,244.3 261.5,245.1 262.6,244.9 263.6,244.2 264.7,244.8 265.8,245.3 266.9,244.9 267.9,246.1 269,246.2 270,246.3 271.1,246.5 272.1,246.5 273.2,246.9 274.2,246.8 275.3,246.1 276.3,247.1 277.4,246.7 278.4,247.2 279.5,247 280.5,247 281.6,247.2 282.7,247 283.7,247.2 284.8,247.1 285.8,246.8 286.9,248 287.9,248 289,248.4 290,248 291.1,247.8 292.1,248.2 293.2,247.3 294.2,248.2 295.3,247.9 296.3,247.5 297.4,248.1 298.5,247.7 299.5,248.2 300.6,247.8 301.6,248.1 302.7,248.4 303.7,248.1 304.8,247.7 305.8,248.3 306.9,247.9 307.9,247.9 309,247.9 310,248.2 311.1,247.8 312.1,248.7 313.2,248.5 314.3,249.3 315.3,248.4 316.4,249 317.4,249.4 318.5,248 319.5,248.2 320.6,249.3 321.6,249.4 322.7,249.1 323.7,248.4 324.8,248.9 325.8,249.6 326.9,249.7 327.9,249.6 329,249.2 330.1,248.8 331.1,249.8 332.2,249.1 333.2,249.7 334.3,248.8 335.3,250.2 336.4,249.6 337.4,249.8 338.5,249 339.5,249.7 340.6,249.7 341.6,249.7 342.7,249.4 343.7,250 344.8,249.7 345.8,249.6 346.9,249.7 347.9,249.6 349,250.6 350,250.4 351,249.8 352.1,250 353.1,249.8 354.1,250.8 355.2,250.6 356.2,250.7 357.2,249.9 358.2,250.5 359.3,250.4 360.3,250.1 361.3,249.9 362.4,251.6 363.4,250.2 364.4,250.5 365.5,250.5 366.5,251 367.5,250.2 368.5,250.9 369.6,250.8 370.6,251.5 371.6,250.2 372.7,250.8 373.7,251.1 374.8,251.1 375.8,251.8 376.9,251.1 377.9,251 379,251.3 380,250.7 381.1,250.3 382.1,251 383.2,251.6 384.2,251.3 385.3,250.6 386.3,251.2 387.4,251.5 388.4,250.5 389.5,250.9 390.6,251.2 391.6,250.9 392.7,250.8 393.7,251 394.8,251 395.8,251.3 396.9,251 397.9,251.6 399,251.3 400,252.4 401.1,252.3 402.1,251.5 403.2,252.8 404.2,252 405.3,252.6 406.3,252.6 407.4,252.7 408.4,252.4 409.4,252.3 410.4,252.6 411.4,252.1 412.5,253.3 413.5,252.1 414.5,253.3 415.6,252.3 416.6,252.5 417.6,252.6 418.6,252 419.7,252.2 420.7,252.6 421.7,252.7 422.7,253.5 423.8,253.7 424.8,252.2 425.8,252.9 426.8,253 427.8,252.5 428.8,253.6 429.8,253 430.8,253.9 431.8,253.5 432.8,252.9 433.8,252.8 434.8,253.3 435.8,254.3 436.8,253.3 437.8,253.9 438.8,253.8 439.8,253.8 440.8,254.6 441.8,253.8 442.8,254.7 443.8,254.7 444.8,254.5 445.9,255.3 446.9,254.7 448,255.4 449,254.7 450.1,255 451.1,255.1 452.2,255.6 453.2,255.7 454.3,254.5 455.3,254.7 456.4,255.4 457.4,255.9 458.5,255.5 459.5,255.2 460.6,255.6 461.7,256.5 462.8,255.7 463.9,255.5 465,255.7 466.1,256.6"/>
</g>
<g clip-path="url(#clipBT)" fill="none" stroke-linejoin="round">
<polyline stroke="#daa520" stroke-width="1.6" points="555.5,155.8 571,155.8 571.2,110.5 572.8,110.3 574.1,105 574.7,99.5 575.4,65 576.3,42 578.7,61 580,20 580.8,10 582.2,10 582.6,22.2 584.6,30.8 585.3,22.2 585.6,10 589.6,10 589.9,22.2 591.8,33.4 593.8,41.3 594.5,60 596.4,70.5 597.8,79.7 599.7,85 601.7,94.2 603,98.2 603.7,60 603.9,47.2 605,47.2 607,61 608.3,22.2 608.6,10 621,10 621.4,24.2 621.8,10 626.4,10 626.7,22.2 628.7,47.9 630,60 632,73.2 633.3,83.7 634.6,90.3 635.9,98.2 636.5,105 637.9,110.6 641.8,115.5 642.6,115.4 643.3,117 644.1,117.5 644.8,117.7 645.6,117.8 646.3,119.5 647.1,119.5 647.8,120.7 648.5,120.8 649.3,121.4 650,122 650.8,121.7 651.6,121.5 652.4,122.8 653.2,122.7 654,123.2 654.8,122.3 655.6,123.9 656.4,122.8 657.2,123.5 657.9,123.1 658.7,122.9 659.4,125 660.1,124.7 660.9,125.2 661.6,124.8 662.3,123.8 663,124.6 663.8,125.1 664.5,125.3 665.2,124.7 665.9,126.4 666.7,125.4 667.4,125.1 668.1,126.5 668.8,125.3 669.5,127 670.3,126.2 671,126.5 671.7,126.5 672.4,126.3 673.2,126.8 673.9,126.3 674.6,126.2 675.4,128 676.1,126.9 676.8,128.1 677.5,127.1 678.3,128.8 679,128 679.7,128.8 680.4,128.6 681.2,128.6 681.9,128.3 682.6,128.6 683.3,127.4 684,128.2 684.8,128.9 685.5,127.7 686.2,128.3 686.9,129.3 687.7,129.4 688.4,128.5 689.1,128.6 689.9,128.9 690.6,128.9 691.3,130.3 692,129.2 692.8,128.6 693.5,129.7 694.2,129 694.9,130.3 695.7,130.9 696.4,130 697.1,130 697.8,130.2 698.5,130.7 699.3,129.7 700,130.5 700.7,130.4 701.4,130.6 702.2,130.8 702.9,130 703.6,130.1 704.4,130.5 705.1,131.8 705.8,130.7 706.5,131.3 707.3,130.8 708,131.3 708.7,130.5 709.4,130.5 710.2,132 710.9,132 711.6,131.2 712.3,131.8 713,131.9 713.8,132.3 714.5,132.5 715.2,131.6 715.9,131.6 716.7,132.9 717.4,133.1 718.1,132.5 718.9,133.3 719.6,132.7 720.3,132.6 721,132.5 721.8,134 722.5,133.4 723.2,132.8 723.9,132.7 724.7,134.3 725.4,134.3 726.1,133.9 726.8,134.7 727.5,133.2 728.3,133.7 729,133.9 729.7,134.4 730.4,134.3 731.2,133.9 731.9,133.8 732.6,134.4 733.4,135.6 734.1,135.9 734.8,135.5 735.5,135.1 736.3,134.7 737,135.3 737.7,136.3 738.4,135.5 739.2,136 739.9,134.7 740.6,135.2 741.3,136.5 742,136.5 742.8,136.8 743.5,136.3 744.2,136.2 744.9,136.2 745.6,136.7 746.4,137.4 747.1,136.5 747.8,137.2 748.5,136.8 749.2,138 750,136.7 750.7,138.2 751.4,138"/>
<polyline stroke="#008000" stroke-width="1.8" points="555.5,155.8 591,155.8 591.8,155 594.5,140.5 597.1,122.1 599.1,116.8 601.7,109 603,108.3 604.3,143.2 605.7,139.2 607,132.6 608.3,155.8 619.3,155.8 619.5,155 621.4,139.9 622.8,148.4 624.5,145 626.1,139.2 628,124.7 629.3,112.9 631.3,105 632,98.2 634,86.3 635.9,77.1 637.9,69.2 640.5,65.9 641.2,66.8 641.8,64.6 642.5,64.1 643.2,66.2 643.8,64.1 644.5,64.6 645.1,63.6 645.8,64.7 646.5,63.8 647.1,65 647.8,63.3 648.4,64.9 649.1,63.2 649.7,63.5 650.4,63.9 651,64.9 651.7,64.4 652.4,65.2 653,64.8 653.7,63.4 654.3,65.6 655,64.8 655.6,65.2 656.2,64.8 656.9,64.8 657.5,66.6 658.1,66.2 658.7,66.2 659.3,67.4 659.9,67.2 660.6,67.9 661.2,67.1 661.8,67.6 662.4,67.6 663,66.9 663.7,68.8 664.3,67.4 664.9,68.7 665.5,69.3 666.2,68.8 666.8,67.8 667.4,68.8 668,69.8 668.6,69.6 669.3,68.6 669.9,68.5 670.5,69.8 671.1,68.8 671.8,71.1 672.4,70.3 673,70.5 673.6,70.4 674.2,71.2 674.9,72 675.5,70.8 676.1,71.4 676.7,71.3 677.3,71.9 678,71.4 678.6,72.3 679.2,72.3 679.8,72.2 680.5,72.9 681.1,72.7 681.7,71.8 682.3,74.2 682.9,72.8 683.6,73.1 684.2,73.2 684.8,73.6 685.4,74.7 686,74.9 686.7,73.9 687.3,73.7 687.9,73.1 688.5,75.1 689.1,73.4 689.8,74.4 690.4,74 691,74 691.6,74.2 692.3,73.9 692.9,73.6 693.5,74.8 694.1,75.1 694.7,75.9 695.3,75.7 695.9,74.8 696.5,76.2 697.1,74.8 697.7,75.9 698.3,77.1 698.9,77.5 699.5,76.5 700.1,77.6 700.7,77 701.3,77.1 701.9,77.3 702.5,77.5 703.1,78.6 703.7,78.1 704.4,77.6 705,78.3 705.6,78.2 706.2,77.6 706.8,78.8 707.4,79 708,78.3 708.6,78.8 709.2,79.8 709.8,77.8 710.4,79.2 711,79.7 711.6,79.2 712.2,79 712.8,80.5 713.4,80.1 714,79.9 714.6,79.6 715.2,80.9 715.8,82.2 716.4,80.8 717,80.4 717.6,80.8 718.2,81 718.9,82.6 719.5,81.1 720.1,81.5 720.7,81.2 721.3,82.2 721.9,81.8 722.5,82.6 723.1,82.4 723.7,83.4 724.3,84 724.9,83.9 725.5,82.1 726.1,83.1 726.7,84.3 727.3,82.5 727.9,83 728.5,83.8 729.1,83.7 729.7,84.1 730.3,84.9 730.9,85 731.5,84.6 732.1,84.2 732.7,84.4 733.4,84.6 734,84.3 734.6,86 735.2,84.9 735.8,86.9 736.4,86.5 737,86.3 737.6,85.4 738.2,86.6 738.9,87 739.5,85.9 740.1,87.1 740.7,86.2 741.4,88.1 742,86.4 742.6,88.1 743.2,89.1 743.8,88.9 744.5,87.6 745.1,88.5 745.7,88.6 746.3,87.6 747,88 747.6,89.1 748.2,88.8 748.9,86.8 749.5,87.5 750.1,88 750.8,86.8 751.4,87.4"/>
</g>
<path d="M557.9,326.3 H754.8" stroke="#5a5a5a" stroke-width="1.4" fill="none"/>
<g clip-path="url(#clipBB)" fill="none" stroke-linejoin="round">
<polyline stroke="#0000ff" stroke-width="2.1" points="558.6,326.3 623.9,325.4 624.4,324.1 624.9,325.5 625.4,324.8 625.8,323.8 626.3,325.7 626.8,324.6 627.3,324.3 627.7,323.1 628.2,325.8 628.7,325.6 629.1,324.7 629.6,323 630.1,322.8 630.6,324.9 631,323.6 631.5,322.3 632,323.5 632.5,322.1 633,322.2 633.5,324.8 633.9,322.1 634.4,323.6 634.9,324.6 635.4,323.6 635.9,324.8 636.3,322.7 636.8,323.3 637.3,324.7 637.8,324.3 638.3,323.4 638.8,322.5 639.2,324.1 639.7,324.6 640.2,323.8 640.7,324.7 641.2,323.8 641.7,322.2 642.1,324.3 642.6,323.3 643.1,323.9 643.6,322.4 644,324.2 644.5,324.5 645,324.1 645.4,322.9 645.9,322.6 646.4,322.7 646.8,324.7 647.3,324 647.8,324.5 648.2,323.1 648.7,323.7 649.2,322.5 649.6,323.1 650.1,323 650.6,324.3 651.1,323.2 651.5,324.7 652,324.5 652.5,322.2 652.9,324.3 653.4,324.9 653.9,322.6 654.3,324.3 654.8,323.9 655.3,323.1 655.7,321.9 656.2,324.8 656.7,322.8 657.1,324.8 657.6,322.4 658.1,323.7 658.6,324.6 659,323.6 659.5,322.8 660,324.4 660.4,323.7 660.9,322.4 661.4,322.3 661.8,322.6 662.3,323.4 662.8,322.7 663.2,324.4 663.7,323.7 664.2,323.9 664.6,324.5 665.1,324.7 665.6,324.7 666.1,321.8 666.5,323.7 667,323.9 667.5,322.8 667.9,322.6 668.4,322.1 668.9,322 669.3,324.7 669.8,324.1 670.3,323.7 670.7,323.9 671.2,323.1 671.7,324.1 672.1,322.1 672.6,323.9 673.1,322.1 673.6,322 674,322.8 674.5,324 675,324.7 675.4,321.8 675.9,322 676.4,323.4 676.8,324.7 677.3,322.5 677.8,324 678.2,323.5 678.7,321.8 679.2,322 679.6,322.2 680.1,324.7 680.6,322.8 681,323 681.5,322.6 682,324.8 682.5,322 682.9,324.4 683.4,324.9 683.9,322.8 684.3,322.6 684.8,322.6 685.3,324.6 685.7,324.2 686.2,323.2 686.7,323 687.1,322.6 687.6,324.8 688.1,322.9 688.5,324.2 689,323.8 689.5,324.4 690,323.3 690.4,324.1 690.9,322.9 691.4,324 691.8,324.5 692.3,323.9 692.8,324 693.2,324 693.7,321.8 694.2,323.1 694.6,322.2 695.1,322.9 695.6,321.8 696,323.4 696.5,323.4 697,324.1 697.5,324.2 697.9,322.1 698.4,323.4 698.9,322.9 699.3,322 699.8,323.3 700.3,324.3 700.7,322.7 701.2,322.4 701.7,322 702.1,323.6 702.6,324.5 703.1,322.8 703.5,322.4 704,324.8 704.5,322.4 705,322.3 705.4,324.7 705.9,323 706.4,324.6 706.8,323.3 707.3,324.5 707.8,323.1 708.2,324 708.7,323.4 709.2,323 709.6,322.5 710.1,323.5 710.6,324.5 711,323.9 711.5,323.6 712,323.9 712.5,324.3 712.9,321.9 713.4,323.8 713.9,324.9 714.3,324.2 714.8,322.5 715.3,322.7 715.7,323.4 716.2,324.8 716.7,323.9 717.1,322.1 717.6,324.5 718.1,324.6 718.5,323.5 719,324.9 719.5,322.1 720,322.3 720.4,324.4 720.9,322.2 721.4,321.9 721.8,322.5 722.3,322.5 722.8,324.6 723.2,324.2 723.7,323.4 724.2,324.3 724.6,322.3 725.1,323.7 725.6,322.9 726,323.7 726.5,321.9 727,323.9 727.5,322.2 727.9,322.2 728.4,323 728.9,324.7 729.3,322 729.8,324.4 730.3,324.7 730.7,322.3 731.2,324.4 731.7,324.8 732.1,322.2 732.6,322.1 733.1,323.9 733.5,323.8 734,322.7 734.5,322.7 735,324.1 735.4,324.8 735.9,324.5 736.4,324.1 736.8,324.9 737.3,322.7 737.8,323.7 738.2,323.3 738.7,324.2 739.2,323.8 739.6,322.8 740.1,322.2 740.6,322.4 741,323.3 741.5,322.3 742,324 742.5,323 742.9,324.1 743.4,322.2 743.9,323.7 744.3,324.8 744.8,322.5 745.3,324.5 745.7,322.3 746.2,322.4 746.7,322.2 747.1,324.8 747.6,324 748.1,324.8 748.5,324.8 749,323.6 749.5,323.1 750,324.8 750.4,322.8 750.9,323.8 751.4,324.5 751.8,323 752.3,323.6 752.8,323.8 753.2,322 753.7,323.4"/>
<polyline stroke="#00bfbf" stroke-width="2.1" points="558.6,326.3 586.6,325.2 587.1,325.1 587.6,324.5 588.1,323.3 588.6,324.9 589.1,324.4 589.6,323.4 590.1,324.5 590.6,324.2 591,324.4 591.5,323.9 592,322.8 592.5,321.4 592.9,322.1 593.4,322.8 593.9,322.6 594.4,321.7 594.9,322.6 595.3,323.1 595.8,321 596.3,321.5 596.8,322.7 597.3,322.7 597.7,322.5 598.2,320.1 598.7,322.2 599.2,320.7 599.6,319.7 600.1,322.1 600.6,320.7 601.1,321 601.6,320.6 602,319.4 602.5,321.3 603,321 603.5,321 603.9,321.5 604.4,319.7 604.9,319.3 605.4,320.1 605.9,320.5 606.4,321.8 606.9,320.2 607.4,320.4 607.9,320.9 608.4,322 608.9,320.9 609.4,321.7 609.9,322.3 610.4,322.1 610.9,322.2 611.3,323 611.8,322.4 612.3,321.5 612.7,321.8 613.2,322.8 613.7,321.5 614.1,321.5 614.6,323.6 615.1,323.3 615.5,323.1 616,323.7 616.5,321.7 616.9,322 617.4,322.3 617.9,321.1 618.3,322.8 618.8,323.3 619.3,323.5 619.7,322.9 620.2,321.6 620.7,322.2 621.1,322.5 621.6,323.6 622.1,322.5 622.6,323.5 623.1,321.9 623.6,323.1 624.1,322.9 624.6,321.6 625.1,321 625.5,321.5 626,322.3 626.5,321.3 627,322.2 627.5,322.9 628,322.1 628.5,320.9 629,321 629.5,322.1 629.9,320.3 630.4,320.2 630.9,321.6 631.4,320.9 631.9,319.6 632.3,321.3 632.8,321.6 633.3,320.3 633.7,319.2 634.2,319.7 634.7,319.7 635.1,319.7 635.6,320.1 636.1,319.9 636.5,319.4 637,318.9 637.5,317.7 637.9,318.7 638.4,319.8 638.9,319.2 639.3,317.3 639.8,318 640.3,319.5 640.7,318.5 641.2,317.8 641.7,317.1 642.1,319.2 642.6,316.9 643.1,317.2 643.5,318.5 644,317.7 644.5,316.9 644.9,318.4 645.4,317.6 645.9,317 646.4,317.4 646.9,318.7 647.4,318.2 647.9,317.8 648.3,318.5 648.8,316.3 649.3,318.2 649.8,318.2 650.3,317.2 650.8,317.4 651.3,318 651.7,317.9 652.2,317.5 652.7,316.4 653.2,318.6 653.7,316.3 654.2,316.2 654.7,316.9 655.2,316.6 655.6,317.7 656.1,316.1 656.6,317.4 657.1,316.7 657.6,316.9 658,317.5 658.5,318.2 659,316.9 659.4,316.8 659.9,318.8 660.4,318 660.8,317.4 661.3,318.3 661.8,318.5 662.2,318.3 662.7,318.8 663.2,318.5 663.6,317.8 664.1,317.5 664.6,317.2 665,318.1 665.5,318.6 666,316.5 666.4,317.3 666.9,317.1 667.4,317.1 667.8,318.1 668.3,317.4 668.8,318.1 669.2,317.3 669.7,316.8 670.2,319 670.6,316.9 671.1,318.7 671.6,319 672,318.9 672.5,317.6 673,316.8 673.4,316.6 673.9,318.7 674.4,318 674.8,316.6 675.3,317.8 675.8,316.8 676.2,317 676.7,318.5 677.2,318.4 677.6,318.8 678.1,318.5 678.6,318.1 679,317.1 679.5,317.4 680,318.7 680.4,318.7 680.9,318 681.4,316.8 681.8,318 682.3,317.1 682.8,317.4 683.2,316.9 683.7,317.9 684.2,318.2 684.6,318 685.1,317.1 685.6,318.5 686,318.7 686.5,317 687,318 687.4,317.6 687.9,318.8 688.4,319.2 688.8,318.7 689.3,318.1 689.8,319.2 690.2,318.6 690.7,316.8 691.2,318.1 691.6,319.3 692.1,317.2 692.6,318.5 693,318.9 693.5,317.6 694,317.6 694.4,318.5 694.9,317.4 695.4,317 695.8,318.4 696.3,318 696.8,319.3 697.2,317.8 697.7,318.6 698.2,317.6 698.6,318 699.1,317.4 699.6,318.5 700,317.6 700.5,316.9 701,318.9 701.4,317.2 701.9,318.1 702.4,316.9 702.9,319.2 703.3,318.4 703.8,318.9 704.3,318.7 704.7,317 705.2,318 705.7,318.4 706.2,316.8 706.6,319.2 707.1,319.3 707.6,317.3 708,317.9 708.5,317.2 709,318.1 709.5,316.9 709.9,318.5 710.4,318.8 710.9,317 711.3,318 711.8,319.3 712.3,319.4 712.7,319.3 713.2,317.4 713.7,317.7 714.2,319.1 714.6,317.2 715.1,317.3 715.6,317.7 716,317.8 716.5,318.2 717,317.5 717.5,318.3 717.9,316.9 718.4,317.8 718.9,317.6 719.3,316.9 719.8,316.7 720.3,318 720.7,319.1 721.2,318 721.7,316.9 722.2,318.8 722.6,318.7 723.1,318.6 723.6,318.8 724,317.2 724.5,317.9 725,319.2 725.5,318 725.9,317.5 726.4,319.3 726.9,318.9 727.3,319.3 727.8,317.5 728.3,318.3 728.8,319.3 729.2,318.7 729.7,318.9 730.2,317.9 730.6,318.2 731.1,318.3 731.6,318.5 732,319.3 732.5,318.5 733,317.7 733.5,317.9 733.9,317.8 734.4,319 734.9,319.3 735.3,317.3 735.8,317.5 736.3,317.6 736.8,316.8 737.2,318.6 737.7,317.4 738.2,318.6 738.6,317.8 739.1,317 739.6,318.2 740.1,317.7 740.5,316.7 741,318.1 741.5,318.7 741.9,316.8 742.4,317.6 742.9,318.5 743.3,318.6 743.8,319.3 744.3,319.2 744.8,316.8 745.2,317.9 745.7,317.3 746.2,318.7 746.6,317.1 747.1,317.5 747.6,317 748.1,318.1 748.5,316.9 749,317.9 749.5,319 749.9,316.9 750.4,318.6 750.9,316.9 751.3,317.9 751.8,318.3 752.3,318 752.8,318.4 753.2,319.2 753.7,318"/>
<polyline stroke="#000000" stroke-width="2.1" points="558.6,326.3 595.9,325.2 596.4,326.3 596.9,324 597.4,326 597.9,324.6 598.3,323.6 598.8,322.9 599.3,324.1 599.8,323.7 600.3,325.4 600.8,323.6 601.2,323.6 601.7,321.5 602.2,322.7 602.7,322.6 603.2,321.8 603.7,323.1 604.1,324.2 604.6,321.6 605.1,321.8 605.6,323.6 606.1,324.8 606.6,323.1 607.1,323.3 607.6,322.2 608.1,323 608.5,323.4 609,323.3 609.5,323 609.9,323.8 610.4,325.1 610.9,325 611.3,321.4 611.8,321.8 612.3,324 612.7,321.6 613.2,323 613.7,324.7 614.1,321.6 614.6,322.7 615.1,321.3 615.5,322.2 616,324.6 616.5,322.4 616.9,321.7 617.4,321.2 617.9,323.5 618.3,322.7 618.8,322 619.3,322.7 619.7,324 620.2,321.1 620.7,321.3 621.1,324.1 621.6,321.8 622.1,322.6 622.5,323.2 623,321.4 623.5,319.8 623.9,321.4 624.4,323.1 624.9,321.4 625.3,320.2 625.8,319.3 626.3,320.2 626.7,322.8 627.2,319 627.7,320.3 628.1,322.3 628.6,320.5 629.1,321.8 629.6,321.9 630.2,319.4 630.7,321.3 631.2,318.5 631.7,319.6 632.2,320.9 632.7,318.9 633.1,319 633.6,320.4 634.1,320.2 634.6,316.3 635.1,315.8 635.5,318.9 636,316.2 636.5,314.9 637,315 637.5,314.8 637.9,316 638.4,316.6 638.9,315 639.4,315.9 639.9,314 640.3,314.9 640.8,314.3 641.3,315.6 641.8,314 642.3,315.7 642.7,314.2 643.2,316.5 643.7,315.8 644.2,312.7 644.6,314.6 645.1,313.3 645.6,313.6 646.1,314.7 646.5,313.2 647,311.7 647.5,313.8 648,313.5 648.4,314 648.9,313.8 649.4,311 649.9,311.3 650.4,310.1 650.8,311.8 651.3,311.1 651.8,309.9 652.3,312.9 652.7,313 653.2,312.8 653.7,312.1 654.2,309.7 654.6,312.7 655.1,311.8 655.6,313.4 656.1,313.5 656.5,311.4 657,311.1 657.5,311.5 658,309.8 658.4,310 658.9,309.6 659.4,311.1 659.9,312.4 660.3,312.9 660.8,310.3 661.3,311.3 661.8,312.7 662.2,313.4 662.7,310.6 663.2,312.9 663.6,310.9 664.1,312.6 664.6,311.7 665,313.4 665.5,311.9 666,312.1 666.4,312.4 666.9,312.9 667.4,311.2 667.8,310.7 668.3,312.7 668.8,313.3 669.3,312.4 669.7,310.7 670.2,312.4 670.7,311 671.1,313.3 671.6,310.7 672.1,313 672.5,312.7 673,310.7 673.5,311.7 673.9,311.1 674.4,312.5 674.9,311 675.3,312.5 675.8,311.7 676.3,311.9 676.8,310 677.2,310.7 677.7,311.5 678.2,310.3 678.6,311.3 679.1,310.8 679.6,311.7 680,311.4 680.5,312.9 681,310 681.4,311.2 681.9,310.5 682.4,311.8 682.9,311.4 683.3,313.7 683.8,313.4 684.3,310.3 684.8,311 685.2,310.2 685.7,310.3 686.2,313 686.7,309.9 687.1,311.5 687.6,311 688.1,311.8 688.6,312.9 689,312 689.5,312.1 690,312.8 690.5,312.6 690.9,312.2 691.4,312.9 691.9,313.4 692.4,310.8 692.8,312.6 693.3,312.6 693.8,310.9 694.3,311.3 694.7,312.3 695.2,312.8 695.7,310.9 696.2,313.1 696.6,312.2 697.1,312.6 697.6,310.1 698.1,313.2 698.5,311.8 699,312 699.5,314 700,313.4 700.4,310.6 700.9,311 701.4,313.4 701.9,313.5 702.3,310.5 702.8,311.9 703.3,312.2 703.8,311.4 704.2,310.7 704.7,313.3 705.2,312.4 705.6,310.8 706.1,313.7 706.6,313.5 707,311 707.5,311.2 708,312.5 708.4,314.1 708.9,311.3 709.4,313.5 709.8,311.7 710.3,313.8 710.8,314.2 711.2,312.1 711.7,313.3 712.2,313.4 712.6,313.2 713.1,313.2 713.6,313.1 714,312.5 714.5,314.7 715,313.1 715.4,312.4 715.9,313.2 716.4,311.8 716.8,313.9 717.3,312.4 717.8,314.2 718.2,312.2 718.7,312.3 719.2,312.8 719.6,313 720.1,311.1 720.6,313.5 721,314.6 721.5,313.6 722,314.7 722.4,311.3 722.9,311.5 723.4,314.1 723.8,312.3 724.3,314 724.8,311.3 725.2,313.1 725.7,314.5 726.2,312.2 726.6,312.7 727.1,314.4 727.6,311.1 728.1,311 728.5,312.2 729,313.7 729.5,311.6 730,314.5 730.4,314.2 730.9,313.5 731.4,314.4 731.9,311.2 732.3,312 732.8,311.4 733.3,312.1 733.8,313.8 734.2,313.6 734.7,312.3 735.2,311.5 735.7,312.2 736.1,313.4 736.6,311.5 737.1,313 737.6,312.2 738,311.3 738.5,312 739,312.8 739.5,312.3 739.9,313.9 740.4,312.9 740.9,311.3 741.4,312.7 741.8,314.6 742.3,311.4 742.8,314.1 743.3,314.6 743.7,312.4 744.2,311.6 744.7,314.2 745.2,312.9 745.6,312.8 746.1,314.2 746.6,312.2 747.1,313.7 747.5,311.9 748,312.7 748.5,312.6 749,313.8 749.4,311.6 749.9,314.7 750.4,313.4 750.9,314.3 751.3,314.3 751.8,314.7 752.3,312.6 752.8,314.4 753.2,314.2 753.7,312.7"/>
<polyline stroke="#ff0000" stroke-width="2.1" points="558.6,326.3 569.8,326.3 570.7,322.3 572.6,323 574.5,325.2 577.3,324.5 580.1,322.3 581.9,325 584.7,322.3 586.6,324.1 587.1,324.2 587.6,324.5 588.1,324.4 588.6,320.7 589.1,321.9 589.6,321.8 590.1,320.8 590.5,321.2 591,321.7 591.5,320 592,320.5 592.4,319.4 592.9,319.7 593.4,318.7 593.9,320.3 594.3,321.3 594.8,319.6 595.3,320.9 595.8,318.1 596.3,320.3 596.8,317.8 597.2,317.7 597.7,319.9 598.2,316.4 598.7,319.5 599.2,315.5 599.7,315.3 600.1,316.6 600.6,317.4 601.1,314.7 601.5,314.2 602,316.4 602.5,313.5 602.9,315.5 603.4,311.5 603.9,312.1 604.3,312.5 604.9,311.2 605.4,316.2 605.9,315.8 606.5,315.4 607,316.3 607.5,317.6 608,319.2 608.5,316.2 609.1,316.5 609.6,319.1 610.1,319.9 610.6,318.5 611.1,318.8 611.7,321 612.2,320.9 612.7,322.7 613.3,322.5 613.8,322.8 614.3,324.2 614.9,323.5 615.4,321.8 615.9,321.4 616.4,320.2 616.9,321.4 617.3,319.8 617.8,320.6 618.3,318.9 618.8,319.7 619.2,321 619.7,321.7 620.2,321.9 620.7,321.8 621.1,319.6 621.6,318 622.1,317.9 622.6,318.5 623,321.3 623.5,318.9 624,321.3 624.5,317.9 624.9,318.9 625.4,318.5 625.9,319.1 626.4,319.6 626.9,319.7 627.3,317.4 627.8,316.6 628.3,319.5 628.8,318.4 629.3,316.7 629.8,316.7 630.2,317.6 630.7,317.1 631.2,314.5 631.7,316.3 632.2,316.5 632.7,316 633.3,313.2 633.8,314.2 634.3,310.7 634.8,312.5 635.4,309.1 635.9,310.2 636.4,309.9 636.8,306.7 637.3,306.4 637.8,305.6 638.2,305.8 638.7,306.9 639.2,306.9 639.6,307.3 640.1,306.5 640.6,304.1 641,306.6 641.5,305.7 642,304 642.4,305.7 642.9,304.7 643.4,303.8 643.8,304.9 644.3,302.8 644.8,305.3 645.2,301.3 645.7,303 646.2,302.4 646.6,303 647.1,303.2 647.6,301 648,301.3 648.5,301.6 649,305 649.4,302.5 649.9,300.8 650.4,302.1 650.8,302.6 651.3,302.6 651.8,301.9 652.3,304 652.7,301.5 653.2,301.3 653.7,304.4 654.2,302.5 654.6,302.1 655.1,303.1 655.6,301.6 656.1,300.5 656.5,300.6 657,303.2 657.5,303.9 658,300.8 658.4,301.8 658.9,300.8 659.4,300.6 659.9,303.2 660.3,301.8 660.8,303.1 661.3,302.2 661.8,300.8 662.3,301.2 662.7,303.2 663.2,302 663.7,301.5 664.2,303 664.7,303.2 665.2,301.8 665.6,303.6 666.1,301.6 666.6,301.5 667.1,299.7 667.6,300.4 668,303.9 668.5,300.6 669,301.3 669.5,301.5 669.9,304.6 670.4,301.5 670.9,304.2 671.4,301.6 671.8,303.1 672.3,303.9 672.8,303.7 673.3,304.6 673.8,301.6 674.2,304.5 674.7,301.6 675.2,303.2 675.7,304.9 676.1,302.7 676.6,303.3 677.1,305.5 677.6,302 678.1,304.5 678.5,305.6 679,302.4 679.5,302.6 680,304.1 680.5,305 680.9,303.5 681.4,303.3 681.9,302.9 682.4,303.8 682.9,303.8 683.3,303.5 683.8,302.9 684.3,305.3 684.8,305.4 685.3,304.1 685.7,302.9 686.2,302.7 686.7,302.5 687.2,304.4 687.7,303.3 688.1,306 688.6,304.8 689.1,306.3 689.6,302.9 690.1,302.2 690.5,303.7 691,303.4 691.5,305.1 692,303.3 692.5,306.5 692.9,304.7 693.4,305.2 693.9,305.3 694.3,303 694.8,306 695.3,306.1 695.8,306.4 696.2,303 696.7,305.3 697.2,302.7 697.6,305.3 698.1,302.9 698.6,305.8 699.1,302.6 699.5,302.3 700,302.7 700.5,303.5 700.9,302.5 701.4,302.4 701.9,302.2 702.4,305.2 702.8,302.7 703.3,304.2 703.8,303 704.2,305 704.7,305.9 705.2,302.7 705.6,304.6 706.1,304.4 706.6,302.9 707,304.8 707.5,305.9 708,304 708.4,304.7 708.9,306 709.4,304.2 709.8,303.3 710.3,306.3 710.8,303.8 711.2,304.1 711.7,305.2 712.2,306.8 712.6,304.7 713.1,306.5 713.6,306.7 714,304.1 714.5,306.7 715,305.8 715.5,307.6 716,304.3 716.5,303.7 717,306.8 717.5,306.4 718,305.8 718.5,304.9 719,308.2 719.5,305.4 720,307.3 720.5,304.3 721,306.2 721.5,306.6 722,304.2 722.5,306.4 722.9,305.4 723.4,308.2 723.9,307.4 724.4,307 724.9,306.6 725.3,307.5 725.8,306.4 726.3,307.8 726.8,305.7 727.3,303.9 727.7,304.3 728.2,305.4 728.7,303.7 729.2,304.8 729.7,305.3 730.1,306 730.6,307.7 731.1,304 731.6,305.8 732.1,304 732.5,304.4 733,304.9 733.5,304.3 734,303.6 734.5,303.5 734.9,304.4 735.4,307.8 735.9,303.6 736.4,305.3 736.9,305.8 737.3,305.8 737.8,306.5 738.3,307.6 738.8,304.9 739.2,304.9 739.7,307.3 740.2,303.5 740.7,303.6 741.2,303.7 741.6,305.2 742.1,305.3 742.6,305.9 743.1,305.7 743.6,306.2 744.1,303.7 744.6,304 745.1,304.2 745.6,306 746.1,306.1 746.6,305.4 747,307.3 747.5,307.9 748,304.4 748.5,307.7 749,307.8 749.5,306.9 750,307.3 750.6,309.4 751.1,307.8 751.6,309.7 752.1,307.1 752.7,310.8 753.2,307.9 753.7,309.6"/>
<polyline stroke="#b000cc" stroke-width="2.1" points="558.6,326.3 572.6,326.3 573.5,324.5 575.4,326.3 579.1,324.5 581,326.3 584.7,324.5 586.6,326.3 587.1,326.3 587.6,325.7 588.1,326.3 588.6,325.6 589.1,326.1 589.6,324.5 590.1,326 590.5,325.1 591,325.6 591.5,325 592,323.6 592.5,325.8 592.9,323.9 593.4,325.4 593.9,323.3 594.4,323.4 594.9,325 595.3,323 595.8,323.4 596.3,325.4 596.8,324.3 597.2,323.3 597.7,322.6 598.2,324.9 598.7,324.6 599.2,323 599.6,322.4 600.1,325 600.6,325 601.1,322.9 601.5,324.2 602,324 602.5,322.4 603,322.8 603.5,323 603.9,322.4 604.4,322.7 604.9,322.5 605.4,323.4 605.9,323 606.3,323.2 606.8,324.9 607.3,322.3 607.8,322.3 608.3,324.1 608.8,323.3 609.3,325.2 609.7,323.7 610.2,323.4 610.7,324.4 611.2,324.1 611.7,322.8 612.2,325 612.7,324.1 613.2,325.3 613.6,324.4 614.1,322.8 614.6,324.1 615.1,323.7 615.5,325.5 616,322.8 616.5,323.4 616.9,323.8 617.4,324.5 617.9,324.4 618.3,324.7 618.8,323.3 619.3,325 619.7,322.2 620.2,324.8 620.7,323.1 621.1,323.2 621.6,323.8 622.1,324 622.5,323.5 623,323.8 623.5,321.7 623.9,322.7 624.4,323.1 624.9,322.6 625.3,323.1 625.8,324.1 626.3,324.4 626.7,321.4 627.2,321.8 627.7,324.1 628.1,322.4 628.6,322.7 629.1,321.7 629.5,321.3 630,323.8 630.5,323.5 630.9,322.6 631.4,321.8 631.9,323.3 632.3,321.3 632.8,321 633.3,321.9 633.7,320.5 634.2,321.9 634.7,320.4 635.1,321.7 635.6,321.5 636.1,321.5 636.5,320.4 637,319.7 637.5,322.2 637.9,320.7 638.4,320.4 638.9,319.6 639.3,320.1 639.8,321.5 640.3,321.1 640.7,319.4 641.2,321.5 641.7,319.2 642.1,320.9 642.6,320.5 643.1,319.9 643.5,320 644,320.3 644.5,319.4 644.9,320.1 645.4,320.5 645.9,319.2 646.4,320 646.8,320.3 647.3,321.9 647.8,319.3 648.3,321.4 648.7,321.4 649.2,322 649.7,320.2 650.2,321 650.6,320.1 651.1,319.6 651.6,319.2 652,319.7 652.5,319.6 653,321 653.5,322.1 653.9,319.8 654.4,319.1 654.9,320.8 655.4,319.5 655.8,320.5 656.3,321.1 656.8,319.7 657.3,322.1 657.7,321.2 658.2,320.2 658.7,322.1 659.2,320.6 659.6,321.1 660.1,321.7 660.6,321.1 661,320.1 661.5,320.3 662,320.6 662.5,320 662.9,321.2 663.4,320.6 663.9,322.1 664.4,320.4 664.8,320.4 665.3,320.5 665.8,320 666.3,319.4 666.7,320.3 667.2,319.5 667.7,320.5 668.2,321.7 668.6,319.8 669.1,320.5 669.6,320.6 670,322.1 670.5,320.8 671,321.5 671.5,320.8 671.9,319.7 672.4,321.4 672.9,322.6 673.4,322.3 673.8,321 674.3,320 674.8,322.5 675.3,321.4 675.7,321.6 676.2,321.3 676.7,320.8 677.2,321.2 677.6,321.2 678.1,321.9 678.6,320 679,320.2 679.5,319.9 680,322.3 680.4,321 680.9,322 681.4,322.4 681.9,319.8 682.3,320.7 682.8,321.3 683.3,320.3 683.7,320.1 684.2,321.3 684.7,322.4 685.1,319.9 685.6,321.1 686.1,321.4 686.5,322.1 687,321.1 687.5,320 688,319.8 688.4,322.3 688.9,322.3 689.4,319.6 689.8,321.1 690.3,320.7 690.8,320.5 691.2,321.4 691.7,321.5 692.2,320 692.7,320.7 693.1,322.6 693.6,322.6 694.1,320.1 694.5,320.8 695,320.3 695.5,321.1 695.9,320.5 696.4,321.6 696.9,321.5 697.3,321.6 697.8,321.8 698.3,319.7 698.8,319.9 699.2,321 699.7,322.5 700.2,319.8 700.6,320.1 701.1,320.7 701.6,319.6 702,320.3 702.5,320.8 703,321.6 703.5,320.7 703.9,321.3 704.4,322.1 704.9,322.1 705.3,322.3 705.8,320.5 706.3,321.5 706.7,319.6 707.2,319.8 707.7,321.8 708.1,322.3 708.6,320 709.1,320 709.6,321.5 710,320.3 710.5,319.7 711,321.2 711.4,321.2 711.9,320.7 712.4,320 712.8,320.4 713.3,319.5 713.8,322.2 714.3,322.3 714.7,322.2 715.2,319.7 715.7,321.7 716.1,322.4 716.6,322.1 717.1,322.5 717.5,320.9 718,320.6 718.5,321.7 719,322.5 719.4,322.5 719.9,320.5 720.4,322.6 720.8,321.9 721.3,321.2 721.8,321.3 722.2,319.7 722.7,319.7 723.2,321 723.6,320.7 724.1,321.5 724.6,320.6 725.1,322.4 725.5,322 726,320 726.5,321.2 726.9,321 727.4,320 727.9,320.5 728.3,322 728.8,321.1 729.3,319.9 729.8,321.5 730.2,319.6 730.7,322 731.2,321.3 731.6,322 732.1,321.7 732.6,321.9 733,320.5 733.5,320.2 734,319.8 734.4,322.1 734.9,319.4 735.4,320.4 735.9,321.7 736.3,320.5 736.8,320.6 737.3,321.5 737.7,321.7 738.2,322.3 738.7,321.9 739.1,319.9 739.6,321.4 740.1,320.5 740.6,321.1 741,321.8 741.5,321.2 742,321.8 742.4,321.2 742.9,321.9 743.4,322.1 743.8,320.1 744.3,321.6 744.8,320.4 745.2,319.6 745.7,319.7 746.2,319.9 746.7,321 747.1,320.9 747.6,322.5 748.1,320.4 748.5,320.9 749,321.5 749.5,319.9 749.9,320.2 750.4,320.1 750.9,321.4 751.4,320.9 751.8,320.1 752.3,319.7 752.8,321 753.2,320.3 753.7,320.9"/>
<polyline stroke="#ffd700" stroke-width="2.1" points="558.6,326.3 569.8,326.3 571.7,323.6 573.5,322.3 574.9,321.2 576.3,322.7 578.2,321.8 580.1,320.5 581.9,321.8 583.8,320.1 585.7,318.9 587.5,320.1 588.1,319.1 588.6,319.9 589.1,318.7 589.6,317.6 590.1,317.9 590.5,316.4 591,316.2 591.5,315.3 591.9,316.8 592.4,315.7 592.9,316.2 593.3,315.4 593.8,314.5 594.3,314.2 594.8,315 595.4,314.4 595.9,313.1 596.4,313.1 596.9,313.6 597.5,312.5 598,312.5 598.5,311.8 598.9,313.7 599.4,311.9 599.9,312.2 600.3,313.1 600.8,313.5 601.3,311.8 601.7,313.2 602.2,312.9 602.7,313.5 603.3,313.3 603.8,311.3 604.3,311.8 604.9,312.4 605.4,312.8 605.9,313.8 606.5,315.1 607,315 607.5,316.9 608,317 608.5,316.5 609.1,315.7 609.6,316.1 610.1,315.4 610.6,316 611.1,317.4 611.7,318.6 612.2,321.6 612.7,322.1 613.3,321.7 613.8,320.6 614.3,320.2 614.8,318.3 615.3,318.6 615.7,318.7 616.2,318 616.7,317 617.1,317.3 617.6,317.1 618.1,317.2 618.5,316.8 619,316 619.5,314.9 620,315.4 620.4,315.3 620.9,316.2 621.4,314.8 621.9,315.9 622.3,315.3 622.8,313.8 623.3,314.7 623.8,314.5 624.2,314.7 624.7,314.5 625.2,314.2 625.6,314.5 626.1,315.7 626.6,316.3 627,315.7 627.5,315.4 628,315.6 628.4,315.4 628.9,313.4 629.4,313.2 629.8,314.2 630.3,313.1 630.8,313.3 631.2,311.9 631.7,312.5 632.2,312.3 632.7,312.4 633.3,312.2 633.8,311.2 634.3,311.6 634.8,310.6 635.4,309.6 635.9,310.2 636.4,310.8 636.9,311.5 637.4,310.1 637.9,311.6 638.4,311.6 638.9,312.6 639.3,312.8 639.8,312.7 640.3,311.6 640.7,311.3 641.2,312.2 641.7,313.1 642.1,312.5 642.6,311.2 643.1,312.3 643.5,311.4 644,311.7 644.5,313.6 644.9,312.1 645.4,312.7 645.9,312.3 646.4,312.5 646.9,313.1 647.3,312.3 647.8,313.4 648.3,312.6 648.8,312.6 649.3,311.4 649.7,311.6 650.2,312.9 650.7,312.4 651.2,313 651.6,311.4 652.1,311.4 652.6,312.7 653.1,311.9 653.6,311.9 654,312.9 654.5,311.5 655,312 655.5,311.4 656,312 656.4,312 656.9,313.2 657.4,312.5 657.9,313.2 658.4,311.2 658.9,311.4 659.4,311.5 659.8,312.7 660.3,313.3 660.8,311.5 661.3,311.4 661.8,313.3 662.3,312.4 662.7,313.4 663.2,311.9 663.7,311.9 664.2,313.4 664.7,312.6 665.2,312.5 665.6,313.2 666.1,311.8 666.6,312.7 667.1,312.9 667.6,313.4 668,312.7 668.5,312.3 669,313.5 669.5,313.2 670,311.7 670.4,312.5 670.9,313 671.4,312.9 671.9,313.8 672.4,313.5 672.8,313.3 673.3,312.8 673.8,313.6 674.3,313.6 674.8,314 675.2,312.8 675.7,313.7 676.2,312.2 676.7,312.3 677.2,313.1 677.6,314.1 678.1,313.7 678.6,312.8 679,313.8 679.5,314 680,312.2 680.4,313 680.9,313.2 681.4,312.5 681.8,312.4 682.3,313.8 682.8,314 683.2,313.3 683.7,313.3 684.2,313.2 684.6,312.6 685.1,312.7 685.6,312.1 686,314 686.5,313.4 687,313.5 687.4,313.1 687.9,312.4 688.4,313.8 688.9,313.9 689.4,313.4 689.9,313.5 690.4,313.8 690.8,313.9 691.3,312.4 691.8,313.5 692.3,312.6 692.8,313.4 693.3,314.5 693.8,312.4 694.3,312.8 694.7,312.5 695.2,312.7 695.7,312.9 696.2,314.4 696.7,313.7 697.2,314.4 697.7,314 698.2,313.8 698.6,314.8 699.1,314.1 699.6,312.8 700,314.4 700.5,313.2 701,314 701.4,314.1 701.9,312.9 702.4,312.8 702.8,313.8 703.3,313.5 703.8,314.7 704.2,314.4 704.7,312.9 705.2,313.8 705.6,313.9 706.1,313.5 706.6,315 707,313.9 707.5,314 708,313.3 708.4,314.8 708.9,313.1 709.4,315 709.8,314.8 710.3,313.9 710.8,313.7 711.2,314.7 711.7,315 712.2,313.3 712.6,314.8 713.1,314 713.6,313.9 714,314.4 714.5,314 715,314.2 715.4,314.2 715.9,313.3 716.4,314.9 716.9,313.8 717.3,314.8 717.8,314.5 718.3,313.9 718.7,314.7 719.2,314.7 719.7,313.7 720.2,315.2 720.6,314.3 721.1,313.1 721.6,313.1 722,315.2 722.5,314.9 723,314.8 723.5,313.3 723.9,313.4 724.4,313.4 724.9,314.5 725.4,315 725.8,313.5 726.3,313.8 726.8,314 727.2,313.2 727.7,313.9 728.2,315.3 728.7,313.5 729.1,314.7 729.6,313.9 730.1,313.3 730.6,315.1 731,315.1 731.5,315.1 732,314.1 732.4,314.8 732.9,314 733.4,313.8 733.9,314.9 734.3,313.9 734.8,314.8 735.3,314.3 735.7,313.3 736.2,313.5 736.7,315.2 737.2,314.4 737.6,314.7 738.1,315.4 738.6,313.6 739.1,313.9 739.5,314.8 740,313.7 740.5,314.1 740.9,314.4 741.4,315.3 741.9,315.2 742.4,313.4 742.8,313.3 743.3,314.1 743.8,313.5 744.3,314.1 744.7,315 745.2,315.1 745.7,314.7 746.1,313.4 746.6,313.6 747.1,313.4 747.6,313.4 748,314.9 748.5,314.8 749,315.1 749.4,313.6 749.9,313.4 750.4,314.5 750.9,314 751.3,315 751.8,313.3 752.3,313.4 752.8,313.2 753.2,313.6 753.7,314.2"/>
<path d="M558,326.3 H590" stroke="#0c1230" stroke-width="1.7" fill="none"/>
<polyline stroke="#1e90ff" stroke-width="2.0" points="558.6,326.3 558.9,326.3 559.2,326.3 559.5,326.3 559.8,326.3 560.1,326.3 560.4,326.3 560.7,326.3 561,326.3 561.4,326.3 561.7,326.3 562,326.3 562.3,326.3 562.6,326.3 562.9,326.3 563.2,326.3 563.5,326.3 563.8,326.3 564.1,326.3 564.4,326.3 564.7,326.3 565,326.3 565.3,326.3 565.6,326.3 565.9,326.3 566.3,326.3 566.6,326.3 566.9,326.3 567.2,326.3 567.5,326.3 567.8,326.3 568.1,326.3 568.4,326.3 568.7,326.3 569.1,321 569.5,315.6 569.9,310.3 570.2,309.6 570.5,309 570.8,308.3 571.2,307.6 571.5,307 571.8,306.3 572.1,307.3 572.4,308.3 572.7,309.3 573,310.3 573.5,318.1 573.9,326 574.2,321.6 574.5,317.2 574.9,312.9 575.2,308.5 575.5,304.1 575.9,299.8 576.2,295.4 576.5,291 576.8,295.3 577.1,299.6 577.4,303.9 577.8,308.2 578.1,312.6 578.4,316.9 578.7,321.2 579,325.5 579.3,319.6 579.6,313.8 579.9,307.9 580.2,302.1 580.6,296.2 580.9,290.3 581.2,284.5 581.5,278.6 581.8,286.4 582.1,294.2 582.5,302.1 582.8,309.9 583.1,317.7 583.4,325.5 583.7,318.1 584,310.8 584.4,303.4 584.7,296.1 585,288.8 585.4,281.4 585.7,274.1 586,266.7 586.3,276.5 586.7,286.3 587,296.1 587.3,305.9 587.7,315.7 588,325.5 588.3,314.7 588.6,303.8 589,293 589.3,283.5 589.6,270.7 589.9,270.9 590.3,270.3 590.6,265.3 590.9,261.8 591.3,261.9 591.6,260.2 591.9,257.1 592.2,254.5 592.6,252.9 592.9,253.8 593.2,249.4 593.5,251.2 593.8,247.9 594.2,246.7 594.5,248.8 594.8,245.5 595.1,242.8 595.5,242.7 595.8,242.4 596.1,240 596.5,240.2 596.8,236.5 597.1,236.7 597.5,237.5 597.8,236 598.1,237.1 598.5,235.5 598.8,234.5 599.1,233.2 599.4,236.3 599.8,235.8 600.1,236.5 600.4,234.9 600.8,234 601.1,231.5 601.4,233.8 601.7,230.7 602,232.1 602.3,230.5 602.6,231.6 602.9,231 603.2,231.4 603.5,232.7 603.8,231.7 604.1,229.9 604.4,232.5 604.7,231.5 605,234.4 605.4,232.1 605.7,237 606,238.8 606.4,250.7 606.7,264.3 607,263.2 607.4,259.5 607.7,257.2 608,256.1 608.4,252.4 608.7,249.8 609,251.4 609.4,253.8 609.7,256.8 610,258 610.3,267.9 610.6,274.6 611,284.1 611.3,293.9 611.6,288 612,282.5 612.3,278.2 612.6,271 612.9,265.7 613.2,260.7 613.6,257.4 613.9,252.6 614.2,256.8 614.6,259.3 614.9,263.3 615.2,268.3 615.6,273.4 615.9,276.3 616.2,274.7 616.5,270.6 616.9,266.9 617.2,264.9 617.5,260.2 617.9,258.2 618.2,255.8 618.5,251.7 618.8,253.5 619.2,255.2 619.5,259 619.8,260.3 620.2,263.2 620.5,266.1 620.8,265.1 621.2,262.2 621.5,259.5 621.8,258.3 622.2,254.5 622.5,252.7 622.8,254.1 623.2,254.5 623.5,254.6 624,246 624.4,238 624.8,239.5 625.1,243.7 625.4,244.5 625.8,249.4 626.1,248.2 626.4,246 626.8,246.8 627.1,245.2 627.4,241.9 627.7,241.7 628,240.8 628.4,241 628.7,237.1 629,232.4 629.4,233.7 629.7,232 630,231.3 630.4,230.6 630.7,227.7 631,224.5 631.3,221.2 631.6,228.4 631.9,224.4 632.2,224.4 632.5,223.9 632.8,225.5 633.1,227.2 633.4,226 633.7,223.5 634,220.2 634.3,217.8 634.7,216.4 635,223.3 635.3,214.7 635.6,218.7 635.9,222.2 636.3,216.3 636.6,216.8 637,216.9 637.3,221.9 637.6,219.2 638,220.5 638.3,214.7 638.6,219.2 638.9,216.4 639.3,215.8 639.6,219.9 639.9,219 640.2,220.6 640.6,218.9 640.9,218.5 641.2,216.1 641.5,217.7 641.9,220.2 642.2,217.3 642.5,214.5 642.9,219.2 643.2,222.3 643.5,220.8 643.8,215.4 644.1,218 644.4,216.5 644.7,217.7 645,223.8 645.3,218.6 645.6,217.6 645.9,217.2 646.2,218.9 646.5,221.3 646.8,218.1 647.1,216.6 647.4,217.1 647.7,217.5 648,223.9 648.3,216.7 648.6,222.5 648.9,216.2 649.2,222.9 649.5,217.9 649.8,223 650.1,220 650.4,216.3 650.7,216.5 651,223.5 651.3,221.1 651.6,220.6 651.9,219.4 652.2,222.8 652.5,220.9 652.9,216.9 653.2,222.2 653.5,219.5 653.8,224.8 654.1,222 654.4,224.3 654.7,218 655,222.8 655.3,222.9 655.6,225.3 655.9,225.7 656.2,222.5 656.5,223 656.8,224.7 657.1,219.9 657.4,222.7 657.7,225.1 658,223.3 658.3,222.8 658.7,225.9 659,227.2 659.3,220.2 659.6,218.4 659.9,223.8 660.2,219.3 660.5,227.4 660.8,222.6 661.1,223.2 661.4,226 661.7,226.6 662,219.5 662.3,222.6 662.6,220 662.9,222.8 663.2,219.6 663.5,227 663.8,221.9 664.1,222.3 664.4,227.3 664.7,226.7 665,222 665.4,223.6 665.7,225.3 666,220.7 666.3,220.2 666.6,227.3 666.9,220.6 667.2,226 667.5,226.3 667.8,224.9 668.1,222.6 668.4,227.7 668.7,225.6 669,220 669.3,228.2 669.6,225.7 669.9,222.3 670.2,221.2 670.5,220.5 670.8,227.5 671.1,227.9 671.4,223.1 671.7,221.5 672,220.5 672.4,223.8 672.7,222.7 673,220.4 673.3,222.8 673.6,228 673.9,220.6 674.2,224 674.5,225.1 674.8,221.7 675.1,220.5 675.4,220.9 675.7,221.6 676,229.8 676.3,228.7 676.6,227.3 676.9,229.2 677.2,223.6 677.5,222.9 677.8,229 678.1,226.5 678.4,229.6 678.7,224.1 679.1,224.7 679.4,227.7 679.7,229.4 680,222.4 680.3,223.4 680.6,221 680.9,226.4 681.2,230 681.5,226.5 681.8,222.5 682.1,227.8 682.4,226.7 682.7,222.2 683,230.1 683.3,227.7 683.6,226.1 683.9,224.7 684.2,222.9 684.5,225.9 684.8,225 685.1,223.7 685.4,227.8 685.7,228 686,230.9 686.3,231.1 686.7,226.2 687,228.7 687.3,225.4 687.6,226 687.9,227.3 688.2,231.4 688.5,222.3 688.8,226.4 689.1,225.2 689.4,229.8 689.7,231.3 690,226.7 690.3,222.8 690.6,227.5 690.9,228 691.2,229.1 691.6,230.1 691.9,227.2 692.2,228.2 692.5,230.5 692.8,223.4 693.1,225.6 693.5,230.1 693.8,233.1 694.1,232.9 694.4,226.6 694.7,233.5 695,226.8 695.4,228.7 695.7,225.9 696,229.9 696.3,228.4 696.6,231.3 696.9,234 697.2,225.9 697.5,231.1 697.8,230.6 698.1,227.4 698.4,225.1 698.7,234 699,231.7 699.3,231 699.7,225.9 700,233.8 700.3,228.9 700.6,229.6 700.9,230.5 701.2,229.5 701.5,234.5 701.8,229.8 702.1,231.9 702.4,232.8 702.7,234.4 703,227 703.3,228.7 703.6,234.7 703.9,231.4 704.2,229.1 704.5,234.1 704.8,226.7 705.1,228 705.4,226.3 705.7,232.2 706,230.4 706.4,228.7 706.7,230.1 707,228.3 707.3,232.8 707.6,233.3 707.9,229.6 708.2,234.4 708.5,226.4 708.8,231.5 709.1,227.5 709.4,227.2 709.7,231.3 710,227 710.3,226.9 710.6,227.5 710.9,229.9 711.2,234.4 711.5,229.1 711.8,227.5 712.1,233.9 712.4,234.4 712.7,236.2 713,226.9 713.4,228.1 713.7,230.8 714,236.3 714.3,231.9 714.6,235.3 714.9,228.9 715.2,231.3 715.5,233.5 715.8,229 716.1,231.9 716.4,234.9 716.7,234.9 717,233.7 717.3,235.1 717.6,236.7 717.9,232.9 718.2,229.5 718.5,229.2 718.8,227.7 719.1,236.1 719.4,232.8 719.7,233.1 720.1,235.8 720.4,234 720.7,231.1 721,233.1 721.3,228.2 721.6,229.9 721.9,230.8 722.2,235.3 722.5,234 722.8,233.5 723.1,231.4 723.4,231.8 723.7,231.4 724,228.2 724.3,231.3 724.6,236.8 724.9,235.9 725.2,230.4 725.5,232.9 725.8,235.4 726.1,230.1 726.4,231.7 726.7,234 727.1,230.2 727.4,237.3 727.7,228.6 728,237.1 728.3,235.1 728.6,232.5 728.9,231.5 729.2,237.2 729.5,235.8 729.8,230.9 730.1,232 730.4,229.9 730.7,235.2 731,233.3 731.3,232.3 731.6,236.1 731.9,231.8 732.2,230.7 732.5,237.2 732.8,238.2 733.1,237.4 733.4,235.1 733.8,236.7 734.1,238.2 734.4,230.1 734.7,232.8 735,233.4 735.3,237.1 735.6,233.3 735.9,237.5 736.2,232.6 736.5,239.5 736.8,234.5 737.1,235.6 737.4,236.5 737.7,238.4 738,235.9 738.3,232.5 738.6,234.7 738.9,235.9 739.2,231.2 739.5,238.6 739.8,233.5 740.1,239.5 740.4,234.2 740.7,239.9 741,237.6 741.4,234.4 741.7,237.5 742,230.6 742.3,231.5 742.6,236.4 742.9,233.7 743.2,234.7 743.5,237.6 743.8,235.4 744.1,236.8 744.4,238.1 744.7,239 745,231.9 745.3,239 745.6,238.2 745.9,233.1 746.2,231.7 746.5,232.8 746.8,231.8 747.1,236.6 747.4,240.7 747.7,235.8 748,233.7 748.3,232.7 748.6,240.6 748.9,236.5 749.2,233.5 749.6,240.1 749.9,235.3 750.2,240.8 750.5,236.2 750.8,233.7 751.1,233.1 751.4,231.4 751.7,239.3 752,234.5 752.3,238.5 752.6,239.6 752.9,235.3 753.2,236.4 753.5,237.4 753.8,237.8 754.2,235.1 754.5,236.5"/>
</g>
<path d="M73.2,38.2 V307.8" stroke="#000" stroke-width="1.7" fill="none"/>
<path d="M72.4,307 H467.2" stroke="#000" stroke-width="1.7" fill="none"/>
<path d="M66,307 H73" stroke="#000" stroke-width="1.7"/>
<text transform="translate(60.2,313.7) scale(1.150,1)" class="tl" text-anchor="end">0</text>
<path d="M66,253.4 H73" stroke="#000" stroke-width="1.7"/>
<text transform="translate(60.2,260.1) scale(1.150,1)" class="tl" text-anchor="end">100</text>
<path d="M66,199.8 H73" stroke="#000" stroke-width="1.7"/>
<text transform="translate(60.2,206.5) scale(1.150,1)" class="tl" text-anchor="end">200</text>
<path d="M66,146.2 H73" stroke="#000" stroke-width="1.7"/>
<text transform="translate(60.2,152.9) scale(1.150,1)" class="tl" text-anchor="end">300</text>
<path d="M66,92.6 H73" stroke="#000" stroke-width="1.7"/>
<text transform="translate(60.2,99.3) scale(1.150,1)" class="tl" text-anchor="end">400</text>
<path d="M66,39 H73" stroke="#000" stroke-width="1.7"/>
<text transform="translate(60.2,45.7) scale(1.150,1)" class="tl" text-anchor="end">500</text>
<path d="M75,307 V313.6" stroke="#000" stroke-width="1.7"/>
<text transform="translate(75,333.2) scale(1.150,1)" class="tl" text-anchor="middle">0</text>
<path d="M168.1,307 V313.6" stroke="#000" stroke-width="1.7"/>
<text transform="translate(168.1,333.2) scale(1.150,1)" class="tl" text-anchor="middle">5</text>
<path d="M261.3,307 V313.6" stroke="#000" stroke-width="1.7"/>
<text transform="translate(261.3,333.2) scale(1.150,1)" class="tl" text-anchor="middle">10</text>
<path d="M354.4,307 V313.6" stroke="#000" stroke-width="1.7"/>
<text transform="translate(354.4,333.2) scale(1.150,1)" class="tl" text-anchor="middle">15</text>
<path d="M447.6,307 V313.6" stroke="#000" stroke-width="1.7"/>
<text transform="translate(447.6,333.2) scale(1.150,1)" class="tl" text-anchor="middle">20</text>
<text transform="translate(270,353.4) scale(1.225,1)" class="al" text-anchor="middle">time (s)</text>
<text transform="translate(23.6,172.5) rotate(-90) scale(1.160,1)" class="al" text-anchor="middle">number of molecules</text>
<text transform="translate(5.6,23.5) scale(1.020,1)" class="pl">A.</text>
<path d="M555.6,22 V156.5" stroke="#222" stroke-width="1" fill="none"/>
<path d="M555.6,155.8 H752.6" stroke="#777" stroke-width="1.6" fill="none"/>
<path d="M552.2,152.2 H555.6" stroke="#222" stroke-width="1"/>
<text transform="translate(549,158.7) scale(1.050,1)" class="tb" text-anchor="end">75</text>
<path d="M552.2,133.6 H555.6" stroke="#222" stroke-width="1"/>
<text transform="translate(549,140.1) scale(1.050,1)" class="tb" text-anchor="end">100</text>
<path d="M552.2,115 H555.6" stroke="#222" stroke-width="1"/>
<text transform="translate(549,121.5) scale(1.050,1)" class="tb" text-anchor="end">125</text>
<path d="M552.2,96.4 H555.6" stroke="#222" stroke-width="1"/>
<text transform="translate(549,102.9) scale(1.050,1)" class="tb" text-anchor="end">150</text>
<path d="M552.2,77.9 H555.6" stroke="#222" stroke-width="1"/>
<text transform="translate(549,84.4) scale(1.050,1)" class="tb" text-anchor="end">175</text>
<path d="M552.2,59.3 H555.6" stroke="#222" stroke-width="1"/>
<text transform="translate(549,65.8) scale(1.050,1)" class="tb" text-anchor="end">200</text>
<path d="M552.2,40.7 H555.6" stroke="#222" stroke-width="1"/>
<text transform="translate(549,47.2) scale(1.050,1)" class="tb" text-anchor="end">225</text>
<path d="M552.2,22.1 H555.6" stroke="#222" stroke-width="1"/>
<text transform="translate(549,28.6) scale(1.050,1)" class="tb" text-anchor="end">250</text>
<path d="M556.4,156 V159.3" stroke="#222" stroke-width="1"/>
<text transform="translate(556.1,173.6) scale(1.100,1)" class="tb" text-anchor="middle">0</text>
<path d="M602.9,156 V159.3" stroke="#222" stroke-width="1"/>
<text transform="translate(602.6,173.6) scale(1.100,1)" class="tb" text-anchor="middle">5</text>
<path d="M649.4,156 V159.3" stroke="#222" stroke-width="1"/>
<text transform="translate(649.1,173.6) scale(1.100,1)" class="tb" text-anchor="middle">10</text>
<path d="M695.9,156 V159.3" stroke="#222" stroke-width="1"/>
<text transform="translate(695.6,173.6) scale(1.100,1)" class="tb" text-anchor="middle">15</text>
<path d="M742.4,156 V159.3" stroke="#222" stroke-width="1"/>
<text transform="translate(742.1,173.6) scale(1.100,1)" class="tb" text-anchor="middle">20</text>
<path d="M557.9,192.2 V326.8" stroke="#777" stroke-width="1.2" fill="none"/>
<path d="M554.5,326.3 H558" stroke="#222" stroke-width="1"/>
<text transform="translate(551.6,333.9) scale(1.060,1)" class="tb" text-anchor="end">0</text>
<path d="M554.5,304 H558" stroke="#222" stroke-width="1"/>
<text transform="translate(551.6,311.6) scale(1.060,1)" class="tb" text-anchor="end">10</text>
<path d="M554.5,281.7 H558" stroke="#222" stroke-width="1"/>
<text transform="translate(551.6,289.3) scale(1.060,1)" class="tb" text-anchor="end">20</text>
<path d="M554.5,259.3 H558" stroke="#222" stroke-width="1"/>
<text transform="translate(551.6,266.9) scale(1.060,1)" class="tb" text-anchor="end">30</text>
<path d="M554.5,237 H558" stroke="#222" stroke-width="1"/>
<text transform="translate(551.6,244.6) scale(1.060,1)" class="tb" text-anchor="end">40</text>
<path d="M554.5,214.7 H558" stroke="#222" stroke-width="1"/>
<text transform="translate(551.6,222.3) scale(1.060,1)" class="tb" text-anchor="end">50</text>
<path d="M554.5,192.4 H558" stroke="#222" stroke-width="1"/>
<text transform="translate(551.6,200) scale(1.060,1)" class="tb" text-anchor="end">60</text>
<path d="M558.6,326.5 V329.7" stroke="#222" stroke-width="1"/>
<text transform="translate(557.7,345) scale(1.100,1)" class="tb" text-anchor="middle">0</text>
<path d="M605.3,326.5 V329.7" stroke="#222" stroke-width="1"/>
<text transform="translate(604.4,345) scale(1.100,1)" class="tb" text-anchor="middle">5</text>
<path d="M652,326.5 V329.7" stroke="#222" stroke-width="1"/>
<text transform="translate(651.1,345) scale(1.100,1)" class="tb" text-anchor="middle">10</text>
<path d="M698.6,326.5 V329.7" stroke="#222" stroke-width="1"/>
<text transform="translate(697.7,345) scale(1.100,1)" class="tb" text-anchor="middle">15</text>
<path d="M745.3,326.5 V329.7" stroke="#222" stroke-width="1"/>
<text transform="translate(744.4,345) scale(1.100,1)" class="tb" text-anchor="middle">20</text>
<text transform="translate(669.1,368.4) scale(1.225,1)" class="al" text-anchor="middle">time (s)</text>
<text transform="translate(509.6,172.1) rotate(-90) scale(1.152,1)" class="al" text-anchor="middle">number of molecules</text>
<text transform="translate(484.8,23.7) scale(1.030,1)" class="pl">B.</text>
</svg>
</body></html>
